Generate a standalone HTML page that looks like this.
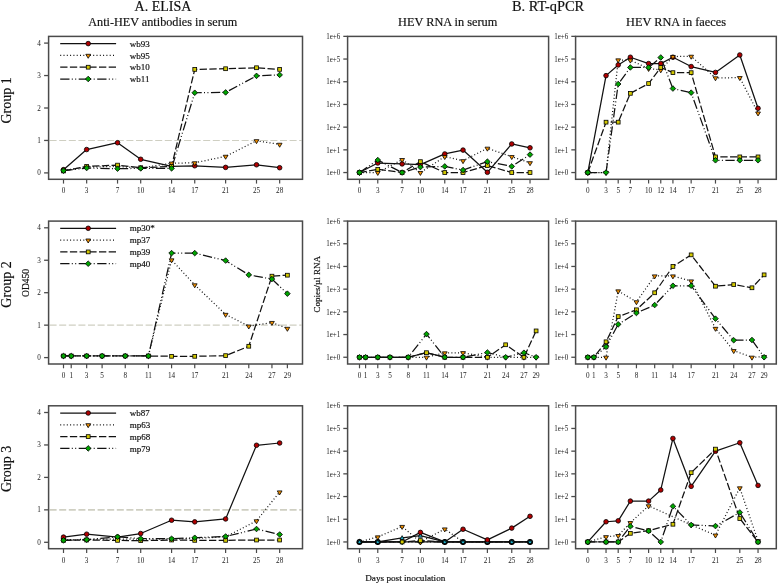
<!DOCTYPE html>
<html><head><meta charset="utf-8"><title>HEV figure</title>
<style>html,body{margin:0;padding:0;background:#fff;width:778px;height:584px;overflow:hidden}svg{display:block;will-change:transform}text{font-family:"Liberation Serif",serif;fill:#111;stroke:#111;stroke-width:0.18px}text.s{stroke:none;fill:#1a1a1a}</style>
</head><body>
<svg width="778" height="584" viewBox="0 0 778 584" font-family='"Liberation Serif", serif' fill="#222"><text x="163.00" y="11.40" font-size="14" text-anchor="middle" >A. ELISA</text>
<text x="162.80" y="25.80" font-size="12.2" text-anchor="middle" >Anti-HEV antibodies in serum</text>
<text x="548.00" y="11.00" font-size="14.4" text-anchor="middle" >B. RT-qPCR</text>
<text x="447.70" y="25.60" font-size="12.3" text-anchor="middle" >HEV RNA in serum</text>
<text x="676.00" y="25.60" font-size="12.3" text-anchor="middle" >HEV RNA in faeces</text>
<text x="405.30" y="581.30" font-size="9.2" text-anchor="middle" >Days post inoculation</text>
<text x="0" y="0" font-size="14" text-anchor="middle" transform="translate(10.7,100.4) rotate(-90)">Group 1</text>
<text x="0" y="0" font-size="14" text-anchor="middle" transform="translate(10.7,284.5) rotate(-90)">Group 2</text>
<text x="0" y="0" font-size="14" text-anchor="middle" transform="translate(10.7,468.9) rotate(-90)">Group 3</text>
<text x="0" y="0" font-size="9.5" text-anchor="middle" transform="translate(28.9,283.0) rotate(-90)">OD450</text>
<text x="0" y="0" font-size="9" text-anchor="middle" transform="translate(320.0,284.2) rotate(-90)">Copies/µl RNA</text>
<line x1="49.6" y1="140.45" x2="301.5" y2="140.45" stroke="#cfcfc2" stroke-width="1.1" stroke-dasharray="7 2.6"/>
<line x1="63.50" y1="179.30" x2="63.50" y2="183.60" stroke="#4a4a4a" stroke-width="1.2"/>
<text x="63.50" y="193.40" font-size="7.2" text-anchor="middle" class="s">0</text>
<line x1="86.66" y1="179.30" x2="86.66" y2="183.60" stroke="#4a4a4a" stroke-width="1.2"/>
<text x="86.66" y="193.40" font-size="7.2" text-anchor="middle" class="s">3</text>
<line x1="117.54" y1="179.30" x2="117.54" y2="183.60" stroke="#4a4a4a" stroke-width="1.2"/>
<text x="117.54" y="193.40" font-size="7.2" text-anchor="middle" class="s">7</text>
<line x1="140.70" y1="179.30" x2="140.70" y2="183.60" stroke="#4a4a4a" stroke-width="1.2"/>
<text x="140.70" y="193.40" font-size="7.2" text-anchor="middle" class="s">10</text>
<line x1="171.58" y1="179.30" x2="171.58" y2="183.60" stroke="#4a4a4a" stroke-width="1.2"/>
<text x="171.58" y="193.40" font-size="7.2" text-anchor="middle" class="s">14</text>
<line x1="194.74" y1="179.30" x2="194.74" y2="183.60" stroke="#4a4a4a" stroke-width="1.2"/>
<text x="194.74" y="193.40" font-size="7.2" text-anchor="middle" class="s">17</text>
<line x1="225.62" y1="179.30" x2="225.62" y2="183.60" stroke="#4a4a4a" stroke-width="1.2"/>
<text x="225.62" y="193.40" font-size="7.2" text-anchor="middle" class="s">21</text>
<line x1="256.50" y1="179.30" x2="256.50" y2="183.60" stroke="#4a4a4a" stroke-width="1.2"/>
<text x="256.50" y="193.40" font-size="7.2" text-anchor="middle" class="s">25</text>
<line x1="279.66" y1="179.30" x2="279.66" y2="183.60" stroke="#4a4a4a" stroke-width="1.2"/>
<text x="279.66" y="193.40" font-size="7.2" text-anchor="middle" class="s">28</text>
<line x1="44.10" y1="172.90" x2="48.60" y2="172.90" stroke="#4a4a4a" stroke-width="1.3"/>
<text x="39.00" y="175.40" font-size="7.2" text-anchor="middle" class="s">0</text>
<line x1="44.10" y1="140.45" x2="48.60" y2="140.45" stroke="#4a4a4a" stroke-width="1.3"/>
<text x="39.00" y="142.95" font-size="7.2" text-anchor="middle" class="s">1</text>
<line x1="44.10" y1="108.00" x2="48.60" y2="108.00" stroke="#4a4a4a" stroke-width="1.3"/>
<text x="39.00" y="110.50" font-size="7.2" text-anchor="middle" class="s">2</text>
<line x1="44.10" y1="75.55" x2="48.60" y2="75.55" stroke="#4a4a4a" stroke-width="1.3"/>
<text x="39.00" y="78.05" font-size="7.2" text-anchor="middle" class="s">3</text>
<line x1="44.10" y1="43.10" x2="48.60" y2="43.10" stroke="#4a4a4a" stroke-width="1.3"/>
<text x="39.00" y="45.60" font-size="7.2" text-anchor="middle" class="s">4</text>
<polyline points="63.50,169.66 86.66,149.54 117.54,142.72 140.70,159.27 171.58,166.41 194.74,165.76 225.62,167.38 256.50,164.79 279.66,167.71" fill="none" stroke="#111" stroke-width="1.25" stroke-linejoin="round"/>
<polyline points="63.50,170.30 86.66,167.06 117.54,166.41 140.70,168.03 171.58,163.16 194.74,162.84 225.62,156.35 256.50,140.77 279.66,144.34" fill="none" stroke="#111" stroke-width="1.25" stroke-dasharray="1 2.3" stroke-linejoin="round"/>
<polyline points="63.50,170.95 86.66,166.41 117.54,165.11 140.70,167.71 171.58,166.41 194.74,69.38 225.62,68.74 256.50,67.76 279.66,69.38" fill="none" stroke="#111" stroke-width="1.25" stroke-dasharray="7.3 2.4" stroke-linejoin="round"/>
<polyline points="63.50,170.63 86.66,168.03 117.54,168.68 140.70,168.36 171.58,168.36 194.74,92.75 225.62,92.42 256.50,75.87 279.66,74.90" fill="none" stroke="#111" stroke-width="1.25" stroke-dasharray="9.3 2.3 1 2.4 1 2.5" stroke-linejoin="round"/>
<circle cx="63.50" cy="169.66" r="2.3" fill="#b00000" stroke="#000" stroke-width="0.8"/>
<circle cx="86.66" cy="149.54" r="2.3" fill="#b00000" stroke="#000" stroke-width="0.8"/>
<circle cx="117.54" cy="142.72" r="2.3" fill="#b00000" stroke="#000" stroke-width="0.8"/>
<circle cx="140.70" cy="159.27" r="2.3" fill="#b00000" stroke="#000" stroke-width="0.8"/>
<circle cx="171.58" cy="166.41" r="2.3" fill="#b00000" stroke="#000" stroke-width="0.8"/>
<circle cx="194.74" cy="165.76" r="2.3" fill="#b00000" stroke="#000" stroke-width="0.8"/>
<circle cx="225.62" cy="167.38" r="2.3" fill="#b00000" stroke="#000" stroke-width="0.8"/>
<circle cx="256.50" cy="164.79" r="2.3" fill="#b00000" stroke="#000" stroke-width="0.8"/>
<circle cx="279.66" cy="167.71" r="2.3" fill="#b00000" stroke="#000" stroke-width="0.8"/>
<polygon points="61.10,169.20 65.90,169.20 63.50,173.20" fill="#f59200" stroke="#000" stroke-width="0.8" stroke-linejoin="miter"/>
<polygon points="84.26,165.96 89.06,165.96 86.66,169.96" fill="#f59200" stroke="#000" stroke-width="0.8" stroke-linejoin="miter"/>
<polygon points="115.14,165.31 119.94,165.31 117.54,169.31" fill="#f59200" stroke="#000" stroke-width="0.8" stroke-linejoin="miter"/>
<polygon points="138.30,166.93 143.10,166.93 140.70,170.93" fill="#f59200" stroke="#000" stroke-width="0.8" stroke-linejoin="miter"/>
<polygon points="169.18,162.06 173.98,162.06 171.58,166.06" fill="#f59200" stroke="#000" stroke-width="0.8" stroke-linejoin="miter"/>
<polygon points="192.34,161.74 197.14,161.74 194.74,165.74" fill="#f59200" stroke="#000" stroke-width="0.8" stroke-linejoin="miter"/>
<polygon points="223.22,155.25 228.02,155.25 225.62,159.25" fill="#f59200" stroke="#000" stroke-width="0.8" stroke-linejoin="miter"/>
<polygon points="254.10,139.67 258.90,139.67 256.50,143.67" fill="#f59200" stroke="#000" stroke-width="0.8" stroke-linejoin="miter"/>
<polygon points="277.26,143.24 282.06,143.24 279.66,147.24" fill="#f59200" stroke="#000" stroke-width="0.8" stroke-linejoin="miter"/>
<rect x="61.60" y="169.05" width="3.8" height="3.8" fill="#d2c800" stroke="#000" stroke-width="0.8"/>
<rect x="84.76" y="164.51" width="3.8" height="3.8" fill="#d2c800" stroke="#000" stroke-width="0.8"/>
<rect x="115.64" y="163.21" width="3.8" height="3.8" fill="#d2c800" stroke="#000" stroke-width="0.8"/>
<rect x="138.80" y="165.81" width="3.8" height="3.8" fill="#d2c800" stroke="#000" stroke-width="0.8"/>
<rect x="169.68" y="164.51" width="3.8" height="3.8" fill="#d2c800" stroke="#000" stroke-width="0.8"/>
<rect x="192.84" y="67.48" width="3.8" height="3.8" fill="#d2c800" stroke="#000" stroke-width="0.8"/>
<rect x="223.72" y="66.84" width="3.8" height="3.8" fill="#d2c800" stroke="#000" stroke-width="0.8"/>
<rect x="254.60" y="65.86" width="3.8" height="3.8" fill="#d2c800" stroke="#000" stroke-width="0.8"/>
<rect x="277.76" y="67.48" width="3.8" height="3.8" fill="#d2c800" stroke="#000" stroke-width="0.8"/>
<polygon points="63.50,167.83 66.30,170.63 63.50,173.43 60.70,170.63" fill="#00a400" stroke="#000" stroke-width="0.8"/>
<polygon points="86.66,165.23 89.46,168.03 86.66,170.83 83.86,168.03" fill="#00a400" stroke="#000" stroke-width="0.8"/>
<polygon points="117.54,165.88 120.34,168.68 117.54,171.48 114.74,168.68" fill="#00a400" stroke="#000" stroke-width="0.8"/>
<polygon points="140.70,165.56 143.50,168.36 140.70,171.16 137.90,168.36" fill="#00a400" stroke="#000" stroke-width="0.8"/>
<polygon points="171.58,165.56 174.38,168.36 171.58,171.16 168.78,168.36" fill="#00a400" stroke="#000" stroke-width="0.8"/>
<polygon points="194.74,89.95 197.54,92.75 194.74,95.55 191.94,92.75" fill="#00a400" stroke="#000" stroke-width="0.8"/>
<polygon points="225.62,89.62 228.42,92.42 225.62,95.22 222.82,92.42" fill="#00a400" stroke="#000" stroke-width="0.8"/>
<polygon points="256.50,73.07 259.30,75.87 256.50,78.67 253.70,75.87" fill="#00a400" stroke="#000" stroke-width="0.8"/>
<polygon points="279.66,72.10 282.46,74.90 279.66,77.70 276.86,74.90" fill="#00a400" stroke="#000" stroke-width="0.8"/>
<polyline points="60.20,43.60 116.10,43.60" fill="none" stroke="#111" stroke-width="1.25" stroke-linejoin="round"/>
<circle cx="88.20" cy="43.60" r="2.3" fill="#b00000" stroke="#000" stroke-width="0.8"/>
<text x="129.80" y="46.70" font-size="9" text-anchor="start" >wb93</text>
<polyline points="60.20,55.40 116.10,55.40" fill="none" stroke="#111" stroke-width="1.25" stroke-dasharray="1 2.3" stroke-linejoin="round"/>
<polygon points="85.80,54.30 90.60,54.30 88.20,58.30" fill="#f59200" stroke="#000" stroke-width="0.8" stroke-linejoin="miter"/>
<text x="129.80" y="58.50" font-size="9" text-anchor="start" >wb95</text>
<polyline points="60.20,67.20 116.10,67.20" fill="none" stroke="#111" stroke-width="1.25" stroke-dasharray="7.3 2.4" stroke-linejoin="round"/>
<rect x="86.30" y="65.30" width="3.8" height="3.8" fill="#d2c800" stroke="#000" stroke-width="0.8"/>
<text x="129.80" y="70.30" font-size="9" text-anchor="start" >wb10</text>
<polyline points="60.20,79.00 116.10,79.00" fill="none" stroke="#111" stroke-width="1.25" stroke-dasharray="9.3 2.3 1 2.4 1 2.5" stroke-linejoin="round"/>
<polygon points="88.20,76.20 91.00,79.00 88.20,81.80 85.40,79.00" fill="#00a400" stroke="#000" stroke-width="0.8"/>
<text x="129.80" y="82.10" font-size="9" text-anchor="start" >wb11</text>
<rect x="48.60" y="36.40" width="253.90" height="142.90" fill="none" stroke="#4a4a4a" stroke-width="1.5"/>
<line x1="359.50" y1="179.30" x2="359.50" y2="183.60" stroke="#4a4a4a" stroke-width="1.2"/>
<text x="359.50" y="193.40" font-size="7.2" text-anchor="middle" class="s">0</text>
<line x1="377.77" y1="179.30" x2="377.77" y2="183.60" stroke="#4a4a4a" stroke-width="1.2"/>
<text x="377.77" y="193.40" font-size="7.2" text-anchor="middle" class="s">3</text>
<line x1="402.13" y1="179.30" x2="402.13" y2="183.60" stroke="#4a4a4a" stroke-width="1.2"/>
<text x="402.13" y="193.40" font-size="7.2" text-anchor="middle" class="s">7</text>
<line x1="420.40" y1="179.30" x2="420.40" y2="183.60" stroke="#4a4a4a" stroke-width="1.2"/>
<text x="420.40" y="193.40" font-size="7.2" text-anchor="middle" class="s">10</text>
<line x1="444.76" y1="179.30" x2="444.76" y2="183.60" stroke="#4a4a4a" stroke-width="1.2"/>
<text x="444.76" y="193.40" font-size="7.2" text-anchor="middle" class="s">14</text>
<line x1="463.03" y1="179.30" x2="463.03" y2="183.60" stroke="#4a4a4a" stroke-width="1.2"/>
<text x="463.03" y="193.40" font-size="7.2" text-anchor="middle" class="s">17</text>
<line x1="487.39" y1="179.30" x2="487.39" y2="183.60" stroke="#4a4a4a" stroke-width="1.2"/>
<text x="487.39" y="193.40" font-size="7.2" text-anchor="middle" class="s">21</text>
<line x1="511.75" y1="179.30" x2="511.75" y2="183.60" stroke="#4a4a4a" stroke-width="1.2"/>
<text x="511.75" y="193.40" font-size="7.2" text-anchor="middle" class="s">25</text>
<line x1="530.02" y1="179.30" x2="530.02" y2="183.60" stroke="#4a4a4a" stroke-width="1.2"/>
<text x="530.02" y="193.40" font-size="7.2" text-anchor="middle" class="s">28</text>
<line x1="343.30" y1="172.55" x2="347.60" y2="172.55" stroke="#4a4a4a" stroke-width="1.3"/>
<text class="s" x="0" y="0" font-size="7" text-anchor="end" transform="translate(340.20,175.25) scale(1,1.18)">1e+0</text>
<line x1="343.30" y1="149.85" x2="347.60" y2="149.85" stroke="#4a4a4a" stroke-width="1.3"/>
<text class="s" x="0" y="0" font-size="7" text-anchor="end" transform="translate(340.20,152.55) scale(1,1.18)">1e+1</text>
<line x1="343.30" y1="127.15" x2="347.60" y2="127.15" stroke="#4a4a4a" stroke-width="1.3"/>
<text class="s" x="0" y="0" font-size="7" text-anchor="end" transform="translate(340.20,129.85) scale(1,1.18)">1e+2</text>
<line x1="343.30" y1="104.45" x2="347.60" y2="104.45" stroke="#4a4a4a" stroke-width="1.3"/>
<text class="s" x="0" y="0" font-size="7" text-anchor="end" transform="translate(340.20,107.15) scale(1,1.18)">1e+3</text>
<line x1="343.30" y1="81.75" x2="347.60" y2="81.75" stroke="#4a4a4a" stroke-width="1.3"/>
<text class="s" x="0" y="0" font-size="7" text-anchor="end" transform="translate(340.20,84.45) scale(1,1.18)">1e+4</text>
<line x1="343.30" y1="59.05" x2="347.60" y2="59.05" stroke="#4a4a4a" stroke-width="1.3"/>
<text class="s" x="0" y="0" font-size="7" text-anchor="end" transform="translate(340.20,61.75) scale(1,1.18)">1e+5</text>
<line x1="343.30" y1="36.35" x2="347.60" y2="36.35" stroke="#4a4a4a" stroke-width="1.3"/>
<text class="s" x="0" y="0" font-size="7" text-anchor="end" transform="translate(340.20,39.05) scale(1,1.18)">1e+6</text>
<polyline points="359.50,172.55 377.77,163.02 402.13,163.92 420.40,164.61 444.76,153.94 463.03,150.08 487.39,172.32 511.75,143.95 530.02,147.81" fill="none" stroke="#111" stroke-width="1.25" stroke-linejoin="round"/>
<polyline points="359.50,172.55 377.77,172.55 402.13,159.61 420.40,172.55 444.76,156.66 463.03,160.75 487.39,148.26 511.75,156.66 530.02,162.79" fill="none" stroke="#111" stroke-width="1.25" stroke-dasharray="1 2.3" stroke-linejoin="round"/>
<polyline points="359.50,172.55 377.77,169.37 402.13,172.55 420.40,161.65 444.76,172.55 463.03,172.55 487.39,165.51 511.75,172.55 530.02,172.55" fill="none" stroke="#111" stroke-width="1.25" stroke-dasharray="7.3 2.4" stroke-linejoin="round"/>
<polyline points="359.50,172.55 377.77,160.06 402.13,172.55 420.40,167.10 444.76,166.42 463.03,170.05 487.39,161.65 511.75,166.42 530.02,154.62" fill="none" stroke="#111" stroke-width="1.25" stroke-dasharray="9.3 2.3 1 2.4 1 2.5" stroke-linejoin="round"/>
<circle cx="359.50" cy="172.55" r="2.3" fill="#b00000" stroke="#000" stroke-width="0.8"/>
<circle cx="377.77" cy="163.02" r="2.3" fill="#b00000" stroke="#000" stroke-width="0.8"/>
<circle cx="402.13" cy="163.92" r="2.3" fill="#b00000" stroke="#000" stroke-width="0.8"/>
<circle cx="420.40" cy="164.61" r="2.3" fill="#b00000" stroke="#000" stroke-width="0.8"/>
<circle cx="444.76" cy="153.94" r="2.3" fill="#b00000" stroke="#000" stroke-width="0.8"/>
<circle cx="463.03" cy="150.08" r="2.3" fill="#b00000" stroke="#000" stroke-width="0.8"/>
<circle cx="487.39" cy="172.32" r="2.3" fill="#b00000" stroke="#000" stroke-width="0.8"/>
<circle cx="511.75" cy="143.95" r="2.3" fill="#b00000" stroke="#000" stroke-width="0.8"/>
<circle cx="530.02" cy="147.81" r="2.3" fill="#b00000" stroke="#000" stroke-width="0.8"/>
<polygon points="357.10,171.45 361.90,171.45 359.50,175.45" fill="#f59200" stroke="#000" stroke-width="0.8" stroke-linejoin="miter"/>
<polygon points="375.37,171.45 380.17,171.45 377.77,175.45" fill="#f59200" stroke="#000" stroke-width="0.8" stroke-linejoin="miter"/>
<polygon points="399.73,158.51 404.53,158.51 402.13,162.51" fill="#f59200" stroke="#000" stroke-width="0.8" stroke-linejoin="miter"/>
<polygon points="418.00,171.45 422.80,171.45 420.40,175.45" fill="#f59200" stroke="#000" stroke-width="0.8" stroke-linejoin="miter"/>
<polygon points="442.36,155.56 447.16,155.56 444.76,159.56" fill="#f59200" stroke="#000" stroke-width="0.8" stroke-linejoin="miter"/>
<polygon points="460.63,159.65 465.43,159.65 463.03,163.65" fill="#f59200" stroke="#000" stroke-width="0.8" stroke-linejoin="miter"/>
<polygon points="484.99,147.16 489.79,147.16 487.39,151.16" fill="#f59200" stroke="#000" stroke-width="0.8" stroke-linejoin="miter"/>
<polygon points="509.35,155.56 514.15,155.56 511.75,159.56" fill="#f59200" stroke="#000" stroke-width="0.8" stroke-linejoin="miter"/>
<polygon points="527.62,161.69 532.42,161.69 530.02,165.69" fill="#f59200" stroke="#000" stroke-width="0.8" stroke-linejoin="miter"/>
<rect x="357.60" y="170.65" width="3.8" height="3.8" fill="#d2c800" stroke="#000" stroke-width="0.8"/>
<rect x="375.87" y="167.47" width="3.8" height="3.8" fill="#d2c800" stroke="#000" stroke-width="0.8"/>
<rect x="400.23" y="170.65" width="3.8" height="3.8" fill="#d2c800" stroke="#000" stroke-width="0.8"/>
<rect x="418.50" y="159.75" width="3.8" height="3.8" fill="#d2c800" stroke="#000" stroke-width="0.8"/>
<rect x="442.86" y="170.65" width="3.8" height="3.8" fill="#d2c800" stroke="#000" stroke-width="0.8"/>
<rect x="461.13" y="170.65" width="3.8" height="3.8" fill="#d2c800" stroke="#000" stroke-width="0.8"/>
<rect x="485.49" y="163.61" width="3.8" height="3.8" fill="#d2c800" stroke="#000" stroke-width="0.8"/>
<rect x="509.85" y="170.65" width="3.8" height="3.8" fill="#d2c800" stroke="#000" stroke-width="0.8"/>
<rect x="528.12" y="170.65" width="3.8" height="3.8" fill="#d2c800" stroke="#000" stroke-width="0.8"/>
<polygon points="359.50,169.75 362.30,172.55 359.50,175.35 356.70,172.55" fill="#00a400" stroke="#000" stroke-width="0.8"/>
<polygon points="377.77,157.26 380.57,160.06 377.77,162.87 374.97,160.06" fill="#00a400" stroke="#000" stroke-width="0.8"/>
<polygon points="402.13,169.75 404.93,172.55 402.13,175.35 399.33,172.55" fill="#00a400" stroke="#000" stroke-width="0.8"/>
<polygon points="420.40,164.30 423.20,167.10 420.40,169.90 417.60,167.10" fill="#00a400" stroke="#000" stroke-width="0.8"/>
<polygon points="444.76,163.62 447.56,166.42 444.76,169.22 441.96,166.42" fill="#00a400" stroke="#000" stroke-width="0.8"/>
<polygon points="463.03,167.25 465.83,170.05 463.03,172.85 460.23,170.05" fill="#00a400" stroke="#000" stroke-width="0.8"/>
<polygon points="487.39,158.85 490.19,161.65 487.39,164.45 484.59,161.65" fill="#00a400" stroke="#000" stroke-width="0.8"/>
<polygon points="511.75,163.62 514.55,166.42 511.75,169.22 508.95,166.42" fill="#00a400" stroke="#000" stroke-width="0.8"/>
<polygon points="530.02,151.82 532.82,154.62 530.02,157.42 527.22,154.62" fill="#00a400" stroke="#000" stroke-width="0.8"/>
<rect x="347.60" y="36.40" width="201.00" height="142.90" fill="none" stroke="#4a4a4a" stroke-width="1.5"/>
<line x1="587.80" y1="179.30" x2="587.80" y2="183.60" stroke="#4a4a4a" stroke-width="1.2"/>
<text x="587.80" y="193.40" font-size="7.2" text-anchor="middle" class="s">0</text>
<line x1="606.04" y1="179.30" x2="606.04" y2="183.60" stroke="#4a4a4a" stroke-width="1.2"/>
<text x="606.04" y="193.40" font-size="7.2" text-anchor="middle" class="s">3</text>
<line x1="618.20" y1="179.30" x2="618.20" y2="183.60" stroke="#4a4a4a" stroke-width="1.2"/>
<text x="618.20" y="193.40" font-size="7.2" text-anchor="middle" class="s">5</text>
<line x1="630.36" y1="179.30" x2="630.36" y2="183.60" stroke="#4a4a4a" stroke-width="1.2"/>
<text x="630.36" y="193.40" font-size="7.2" text-anchor="middle" class="s">7</text>
<line x1="648.60" y1="179.30" x2="648.60" y2="183.60" stroke="#4a4a4a" stroke-width="1.2"/>
<text x="648.60" y="193.40" font-size="7.2" text-anchor="middle" class="s">10</text>
<line x1="660.76" y1="179.30" x2="660.76" y2="183.60" stroke="#4a4a4a" stroke-width="1.2"/>
<text x="660.76" y="193.40" font-size="7.2" text-anchor="middle" class="s">12</text>
<line x1="672.92" y1="179.30" x2="672.92" y2="183.60" stroke="#4a4a4a" stroke-width="1.2"/>
<text x="672.92" y="193.40" font-size="7.2" text-anchor="middle" class="s">14</text>
<line x1="691.16" y1="179.30" x2="691.16" y2="183.60" stroke="#4a4a4a" stroke-width="1.2"/>
<text x="691.16" y="193.40" font-size="7.2" text-anchor="middle" class="s">17</text>
<line x1="715.48" y1="179.30" x2="715.48" y2="183.60" stroke="#4a4a4a" stroke-width="1.2"/>
<text x="715.48" y="193.40" font-size="7.2" text-anchor="middle" class="s">21</text>
<line x1="739.80" y1="179.30" x2="739.80" y2="183.60" stroke="#4a4a4a" stroke-width="1.2"/>
<text x="739.80" y="193.40" font-size="7.2" text-anchor="middle" class="s">25</text>
<line x1="758.04" y1="179.30" x2="758.04" y2="183.60" stroke="#4a4a4a" stroke-width="1.2"/>
<text x="758.04" y="193.40" font-size="7.2" text-anchor="middle" class="s">28</text>
<line x1="571.30" y1="172.55" x2="575.60" y2="172.55" stroke="#4a4a4a" stroke-width="1.3"/>
<text class="s" x="0" y="0" font-size="7" text-anchor="end" transform="translate(568.20,175.25) scale(1,1.18)">1e+0</text>
<line x1="571.30" y1="149.85" x2="575.60" y2="149.85" stroke="#4a4a4a" stroke-width="1.3"/>
<text class="s" x="0" y="0" font-size="7" text-anchor="end" transform="translate(568.20,152.55) scale(1,1.18)">1e+1</text>
<line x1="571.30" y1="127.15" x2="575.60" y2="127.15" stroke="#4a4a4a" stroke-width="1.3"/>
<text class="s" x="0" y="0" font-size="7" text-anchor="end" transform="translate(568.20,129.85) scale(1,1.18)">1e+2</text>
<line x1="571.30" y1="104.45" x2="575.60" y2="104.45" stroke="#4a4a4a" stroke-width="1.3"/>
<text class="s" x="0" y="0" font-size="7" text-anchor="end" transform="translate(568.20,107.15) scale(1,1.18)">1e+3</text>
<line x1="571.30" y1="81.75" x2="575.60" y2="81.75" stroke="#4a4a4a" stroke-width="1.3"/>
<text class="s" x="0" y="0" font-size="7" text-anchor="end" transform="translate(568.20,84.45) scale(1,1.18)">1e+4</text>
<line x1="571.30" y1="59.05" x2="575.60" y2="59.05" stroke="#4a4a4a" stroke-width="1.3"/>
<text class="s" x="0" y="0" font-size="7" text-anchor="end" transform="translate(568.20,61.75) scale(1,1.18)">1e+5</text>
<line x1="571.30" y1="36.35" x2="575.60" y2="36.35" stroke="#4a4a4a" stroke-width="1.3"/>
<text class="s" x="0" y="0" font-size="7" text-anchor="end" transform="translate(568.20,39.05) scale(1,1.18)">1e+6</text>
<polyline points="587.80,172.55 606.04,75.62 618.20,64.95 630.36,57.23 648.60,63.59 660.76,63.59 672.92,57.23 691.16,66.54 715.48,72.44 739.80,54.96 758.04,108.31" fill="none" stroke="#111" stroke-width="1.25" stroke-linejoin="round"/>
<polyline points="587.80,172.55 606.04,172.55 618.20,59.96 630.36,60.19 648.60,68.58 660.76,69.95 672.92,56.55 691.16,56.33 715.48,77.89 739.80,77.66 758.04,113.08" fill="none" stroke="#111" stroke-width="1.25" stroke-dasharray="1 2.3" stroke-linejoin="round"/>
<polyline points="587.80,172.55 606.04,122.16 618.20,122.16 630.36,93.33 648.60,83.57 660.76,67.45 672.92,72.67 691.16,72.67 715.48,156.89 739.80,156.89 758.04,156.89" fill="none" stroke="#111" stroke-width="1.25" stroke-dasharray="7.3 2.4" stroke-linejoin="round"/>
<polyline points="587.80,172.55 606.04,172.55 618.20,84.02 630.36,67.45 648.60,67.45 660.76,57.46 672.92,88.56 691.16,92.65 715.48,160.29 739.80,160.29 758.04,160.29" fill="none" stroke="#111" stroke-width="1.25" stroke-dasharray="9.3 2.3 1 2.4 1 2.5" stroke-linejoin="round"/>
<circle cx="587.80" cy="172.55" r="2.3" fill="#b00000" stroke="#000" stroke-width="0.8"/>
<circle cx="606.04" cy="75.62" r="2.3" fill="#b00000" stroke="#000" stroke-width="0.8"/>
<circle cx="618.20" cy="64.95" r="2.3" fill="#b00000" stroke="#000" stroke-width="0.8"/>
<circle cx="630.36" cy="57.23" r="2.3" fill="#b00000" stroke="#000" stroke-width="0.8"/>
<circle cx="648.60" cy="63.59" r="2.3" fill="#b00000" stroke="#000" stroke-width="0.8"/>
<circle cx="660.76" cy="63.59" r="2.3" fill="#b00000" stroke="#000" stroke-width="0.8"/>
<circle cx="672.92" cy="57.23" r="2.3" fill="#b00000" stroke="#000" stroke-width="0.8"/>
<circle cx="691.16" cy="66.54" r="2.3" fill="#b00000" stroke="#000" stroke-width="0.8"/>
<circle cx="715.48" cy="72.44" r="2.3" fill="#b00000" stroke="#000" stroke-width="0.8"/>
<circle cx="739.80" cy="54.96" r="2.3" fill="#b00000" stroke="#000" stroke-width="0.8"/>
<circle cx="758.04" cy="108.31" r="2.3" fill="#b00000" stroke="#000" stroke-width="0.8"/>
<polygon points="585.40,171.45 590.20,171.45 587.80,175.45" fill="#f59200" stroke="#000" stroke-width="0.8" stroke-linejoin="miter"/>
<polygon points="603.64,171.45 608.44,171.45 606.04,175.45" fill="#f59200" stroke="#000" stroke-width="0.8" stroke-linejoin="miter"/>
<polygon points="615.80,58.86 620.60,58.86 618.20,62.86" fill="#f59200" stroke="#000" stroke-width="0.8" stroke-linejoin="miter"/>
<polygon points="627.96,59.09 632.76,59.09 630.36,63.09" fill="#f59200" stroke="#000" stroke-width="0.8" stroke-linejoin="miter"/>
<polygon points="646.20,67.48 651.00,67.48 648.60,71.48" fill="#f59200" stroke="#000" stroke-width="0.8" stroke-linejoin="miter"/>
<polygon points="658.36,68.85 663.16,68.85 660.76,72.85" fill="#f59200" stroke="#000" stroke-width="0.8" stroke-linejoin="miter"/>
<polygon points="670.52,55.45 675.32,55.45 672.92,59.45" fill="#f59200" stroke="#000" stroke-width="0.8" stroke-linejoin="miter"/>
<polygon points="688.76,55.23 693.56,55.23 691.16,59.23" fill="#f59200" stroke="#000" stroke-width="0.8" stroke-linejoin="miter"/>
<polygon points="713.08,76.79 717.88,76.79 715.48,80.79" fill="#f59200" stroke="#000" stroke-width="0.8" stroke-linejoin="miter"/>
<polygon points="737.40,76.56 742.20,76.56 739.80,80.56" fill="#f59200" stroke="#000" stroke-width="0.8" stroke-linejoin="miter"/>
<polygon points="755.64,111.98 760.44,111.98 758.04,115.98" fill="#f59200" stroke="#000" stroke-width="0.8" stroke-linejoin="miter"/>
<rect x="585.90" y="170.65" width="3.8" height="3.8" fill="#d2c800" stroke="#000" stroke-width="0.8"/>
<rect x="604.14" y="120.26" width="3.8" height="3.8" fill="#d2c800" stroke="#000" stroke-width="0.8"/>
<rect x="616.30" y="120.26" width="3.8" height="3.8" fill="#d2c800" stroke="#000" stroke-width="0.8"/>
<rect x="628.46" y="91.43" width="3.8" height="3.8" fill="#d2c800" stroke="#000" stroke-width="0.8"/>
<rect x="646.70" y="81.67" width="3.8" height="3.8" fill="#d2c800" stroke="#000" stroke-width="0.8"/>
<rect x="658.86" y="65.55" width="3.8" height="3.8" fill="#d2c800" stroke="#000" stroke-width="0.8"/>
<rect x="671.02" y="70.77" width="3.8" height="3.8" fill="#d2c800" stroke="#000" stroke-width="0.8"/>
<rect x="689.26" y="70.77" width="3.8" height="3.8" fill="#d2c800" stroke="#000" stroke-width="0.8"/>
<rect x="713.58" y="154.99" width="3.8" height="3.8" fill="#d2c800" stroke="#000" stroke-width="0.8"/>
<rect x="737.90" y="154.99" width="3.8" height="3.8" fill="#d2c800" stroke="#000" stroke-width="0.8"/>
<rect x="756.14" y="154.99" width="3.8" height="3.8" fill="#d2c800" stroke="#000" stroke-width="0.8"/>
<polygon points="587.80,169.75 590.60,172.55 587.80,175.35 585.00,172.55" fill="#00a400" stroke="#000" stroke-width="0.8"/>
<polygon points="606.04,169.75 608.84,172.55 606.04,175.35 603.24,172.55" fill="#00a400" stroke="#000" stroke-width="0.8"/>
<polygon points="618.20,81.22 621.00,84.02 618.20,86.82 615.40,84.02" fill="#00a400" stroke="#000" stroke-width="0.8"/>
<polygon points="630.36,64.65 633.16,67.45 630.36,70.25 627.56,67.45" fill="#00a400" stroke="#000" stroke-width="0.8"/>
<polygon points="648.60,64.65 651.40,67.45 648.60,70.25 645.80,67.45" fill="#00a400" stroke="#000" stroke-width="0.8"/>
<polygon points="660.76,54.66 663.56,57.46 660.76,60.26 657.96,57.46" fill="#00a400" stroke="#000" stroke-width="0.8"/>
<polygon points="672.92,85.76 675.72,88.56 672.92,91.36 670.12,88.56" fill="#00a400" stroke="#000" stroke-width="0.8"/>
<polygon points="691.16,89.85 693.96,92.65 691.16,95.45 688.36,92.65" fill="#00a400" stroke="#000" stroke-width="0.8"/>
<polygon points="715.48,157.49 718.28,160.29 715.48,163.09 712.68,160.29" fill="#00a400" stroke="#000" stroke-width="0.8"/>
<polygon points="739.80,157.49 742.60,160.29 739.80,163.09 737.00,160.29" fill="#00a400" stroke="#000" stroke-width="0.8"/>
<polygon points="758.04,157.49 760.84,160.29 758.04,163.09 755.24,160.29" fill="#00a400" stroke="#000" stroke-width="0.8"/>
<rect x="575.60" y="36.40" width="200.70" height="142.90" fill="none" stroke="#4a4a4a" stroke-width="1.5"/>
<line x1="49.6" y1="325.15" x2="301.5" y2="325.15" stroke="#cfcfc2" stroke-width="1.2" stroke-dasharray="7 2.6"/>
<line x1="63.50" y1="364.00" x2="63.50" y2="368.30" stroke="#4a4a4a" stroke-width="1.2"/>
<text x="63.50" y="378.10" font-size="7.2" text-anchor="middle" class="s">0</text>
<line x1="71.22" y1="364.00" x2="71.22" y2="368.30" stroke="#4a4a4a" stroke-width="1.2"/>
<text x="71.22" y="378.10" font-size="7.2" text-anchor="middle" class="s">1</text>
<line x1="86.66" y1="364.00" x2="86.66" y2="368.30" stroke="#4a4a4a" stroke-width="1.2"/>
<text x="86.66" y="378.10" font-size="7.2" text-anchor="middle" class="s">3</text>
<line x1="102.10" y1="364.00" x2="102.10" y2="368.30" stroke="#4a4a4a" stroke-width="1.2"/>
<text x="102.10" y="378.10" font-size="7.2" text-anchor="middle" class="s">5</text>
<line x1="125.26" y1="364.00" x2="125.26" y2="368.30" stroke="#4a4a4a" stroke-width="1.2"/>
<text x="125.26" y="378.10" font-size="7.2" text-anchor="middle" class="s">8</text>
<line x1="148.42" y1="364.00" x2="148.42" y2="368.30" stroke="#4a4a4a" stroke-width="1.2"/>
<text x="148.42" y="378.10" font-size="7.2" text-anchor="middle" class="s">11</text>
<line x1="171.58" y1="364.00" x2="171.58" y2="368.30" stroke="#4a4a4a" stroke-width="1.2"/>
<text x="171.58" y="378.10" font-size="7.2" text-anchor="middle" class="s">14</text>
<line x1="194.74" y1="364.00" x2="194.74" y2="368.30" stroke="#4a4a4a" stroke-width="1.2"/>
<text x="194.74" y="378.10" font-size="7.2" text-anchor="middle" class="s">17</text>
<line x1="225.62" y1="364.00" x2="225.62" y2="368.30" stroke="#4a4a4a" stroke-width="1.2"/>
<text x="225.62" y="378.10" font-size="7.2" text-anchor="middle" class="s">21</text>
<line x1="248.78" y1="364.00" x2="248.78" y2="368.30" stroke="#4a4a4a" stroke-width="1.2"/>
<text x="248.78" y="378.10" font-size="7.2" text-anchor="middle" class="s">24</text>
<line x1="271.94" y1="364.00" x2="271.94" y2="368.30" stroke="#4a4a4a" stroke-width="1.2"/>
<text x="271.94" y="378.10" font-size="7.2" text-anchor="middle" class="s">27</text>
<line x1="287.38" y1="364.00" x2="287.38" y2="368.30" stroke="#4a4a4a" stroke-width="1.2"/>
<text x="287.38" y="378.10" font-size="7.2" text-anchor="middle" class="s">29</text>
<line x1="44.10" y1="357.60" x2="48.60" y2="357.60" stroke="#4a4a4a" stroke-width="1.3"/>
<text x="39.00" y="360.10" font-size="7.2" text-anchor="middle" class="s">0</text>
<line x1="44.10" y1="325.15" x2="48.60" y2="325.15" stroke="#4a4a4a" stroke-width="1.3"/>
<text x="39.00" y="327.65" font-size="7.2" text-anchor="middle" class="s">1</text>
<line x1="44.10" y1="292.70" x2="48.60" y2="292.70" stroke="#4a4a4a" stroke-width="1.3"/>
<text x="39.00" y="295.20" font-size="7.2" text-anchor="middle" class="s">2</text>
<line x1="44.10" y1="260.25" x2="48.60" y2="260.25" stroke="#4a4a4a" stroke-width="1.3"/>
<text x="39.00" y="262.75" font-size="7.2" text-anchor="middle" class="s">3</text>
<line x1="44.10" y1="227.80" x2="48.60" y2="227.80" stroke="#4a4a4a" stroke-width="1.3"/>
<text x="39.00" y="230.30" font-size="7.2" text-anchor="middle" class="s">4</text>
<polyline points="63.50,355.98 71.22,355.98 86.66,355.98 102.10,355.98 125.26,355.98 148.42,355.98 171.58,259.93 194.74,284.91 225.62,314.44 248.78,326.12 271.94,322.55 287.38,328.40" fill="none" stroke="#111" stroke-width="1.25" stroke-dasharray="1 2.3" stroke-linejoin="round"/>
<polyline points="63.50,355.98 71.22,355.98 86.66,355.98 102.10,355.98 125.26,355.98 148.42,355.98 171.58,356.30 194.74,356.30 225.62,355.65 248.78,346.24 271.94,276.15 287.38,275.18" fill="none" stroke="#111" stroke-width="1.25" stroke-dasharray="7.3 2.4" stroke-linejoin="round"/>
<polyline points="63.50,355.98 71.22,355.98 86.66,355.98 102.10,355.98 125.26,355.98 148.42,355.98 171.58,253.11 194.74,253.11 225.62,260.57 248.78,274.85 271.94,279.07 287.38,293.67" fill="none" stroke="#111" stroke-width="1.25" stroke-dasharray="9.3 2.3 1 2.4 1 2.5" stroke-linejoin="round"/>
<polygon points="61.10,354.88 65.90,354.88 63.50,358.88" fill="#f59200" stroke="#000" stroke-width="0.8" stroke-linejoin="miter"/>
<polygon points="68.82,354.88 73.62,354.88 71.22,358.88" fill="#f59200" stroke="#000" stroke-width="0.8" stroke-linejoin="miter"/>
<polygon points="84.26,354.88 89.06,354.88 86.66,358.88" fill="#f59200" stroke="#000" stroke-width="0.8" stroke-linejoin="miter"/>
<polygon points="99.70,354.88 104.50,354.88 102.10,358.88" fill="#f59200" stroke="#000" stroke-width="0.8" stroke-linejoin="miter"/>
<polygon points="122.86,354.88 127.66,354.88 125.26,358.88" fill="#f59200" stroke="#000" stroke-width="0.8" stroke-linejoin="miter"/>
<polygon points="146.02,354.88 150.82,354.88 148.42,358.88" fill="#f59200" stroke="#000" stroke-width="0.8" stroke-linejoin="miter"/>
<polygon points="169.18,258.83 173.98,258.83 171.58,262.83" fill="#f59200" stroke="#000" stroke-width="0.8" stroke-linejoin="miter"/>
<polygon points="192.34,283.81 197.14,283.81 194.74,287.81" fill="#f59200" stroke="#000" stroke-width="0.8" stroke-linejoin="miter"/>
<polygon points="223.22,313.34 228.02,313.34 225.62,317.34" fill="#f59200" stroke="#000" stroke-width="0.8" stroke-linejoin="miter"/>
<polygon points="246.38,325.02 251.18,325.02 248.78,329.02" fill="#f59200" stroke="#000" stroke-width="0.8" stroke-linejoin="miter"/>
<polygon points="269.54,321.45 274.34,321.45 271.94,325.45" fill="#f59200" stroke="#000" stroke-width="0.8" stroke-linejoin="miter"/>
<polygon points="284.98,327.30 289.78,327.30 287.38,331.30" fill="#f59200" stroke="#000" stroke-width="0.8" stroke-linejoin="miter"/>
<rect x="61.60" y="354.08" width="3.8" height="3.8" fill="#d2c800" stroke="#000" stroke-width="0.8"/>
<rect x="69.32" y="354.08" width="3.8" height="3.8" fill="#d2c800" stroke="#000" stroke-width="0.8"/>
<rect x="84.76" y="354.08" width="3.8" height="3.8" fill="#d2c800" stroke="#000" stroke-width="0.8"/>
<rect x="100.20" y="354.08" width="3.8" height="3.8" fill="#d2c800" stroke="#000" stroke-width="0.8"/>
<rect x="123.36" y="354.08" width="3.8" height="3.8" fill="#d2c800" stroke="#000" stroke-width="0.8"/>
<rect x="146.52" y="354.08" width="3.8" height="3.8" fill="#d2c800" stroke="#000" stroke-width="0.8"/>
<rect x="169.68" y="354.40" width="3.8" height="3.8" fill="#d2c800" stroke="#000" stroke-width="0.8"/>
<rect x="192.84" y="354.40" width="3.8" height="3.8" fill="#d2c800" stroke="#000" stroke-width="0.8"/>
<rect x="223.72" y="353.75" width="3.8" height="3.8" fill="#d2c800" stroke="#000" stroke-width="0.8"/>
<rect x="246.88" y="344.34" width="3.8" height="3.8" fill="#d2c800" stroke="#000" stroke-width="0.8"/>
<rect x="270.04" y="274.25" width="3.8" height="3.8" fill="#d2c800" stroke="#000" stroke-width="0.8"/>
<rect x="285.48" y="273.28" width="3.8" height="3.8" fill="#d2c800" stroke="#000" stroke-width="0.8"/>
<polygon points="63.50,353.18 66.30,355.98 63.50,358.78 60.70,355.98" fill="#00a400" stroke="#000" stroke-width="0.8"/>
<polygon points="71.22,353.18 74.02,355.98 71.22,358.78 68.42,355.98" fill="#00a400" stroke="#000" stroke-width="0.8"/>
<polygon points="86.66,353.18 89.46,355.98 86.66,358.78 83.86,355.98" fill="#00a400" stroke="#000" stroke-width="0.8"/>
<polygon points="102.10,353.18 104.90,355.98 102.10,358.78 99.30,355.98" fill="#00a400" stroke="#000" stroke-width="0.8"/>
<polygon points="125.26,353.18 128.06,355.98 125.26,358.78 122.46,355.98" fill="#00a400" stroke="#000" stroke-width="0.8"/>
<polygon points="148.42,353.18 151.22,355.98 148.42,358.78 145.62,355.98" fill="#00a400" stroke="#000" stroke-width="0.8"/>
<polygon points="171.58,250.31 174.38,253.11 171.58,255.91 168.78,253.11" fill="#00a400" stroke="#000" stroke-width="0.8"/>
<polygon points="194.74,250.31 197.54,253.11 194.74,255.91 191.94,253.11" fill="#00a400" stroke="#000" stroke-width="0.8"/>
<polygon points="225.62,257.77 228.42,260.57 225.62,263.37 222.82,260.57" fill="#00a400" stroke="#000" stroke-width="0.8"/>
<polygon points="248.78,272.05 251.58,274.85 248.78,277.65 245.98,274.85" fill="#00a400" stroke="#000" stroke-width="0.8"/>
<polygon points="271.94,276.27 274.74,279.07 271.94,281.87 269.14,279.07" fill="#00a400" stroke="#000" stroke-width="0.8"/>
<polygon points="287.38,290.87 290.18,293.67 287.38,296.47 284.58,293.67" fill="#00a400" stroke="#000" stroke-width="0.8"/>
<polyline points="60.20,228.30 116.10,228.30" fill="none" stroke="#111" stroke-width="1.25" stroke-linejoin="round"/>
<circle cx="88.20" cy="228.30" r="2.3" fill="#b00000" stroke="#000" stroke-width="0.8"/>
<text x="129.80" y="231.40" font-size="9" text-anchor="start" >mp30*</text>
<polyline points="60.20,240.10 116.10,240.10" fill="none" stroke="#111" stroke-width="1.25" stroke-dasharray="1 2.3" stroke-linejoin="round"/>
<polygon points="85.80,239.00 90.60,239.00 88.20,243.00" fill="#f59200" stroke="#000" stroke-width="0.8" stroke-linejoin="miter"/>
<text x="129.80" y="243.20" font-size="9" text-anchor="start" >mp37</text>
<polyline points="60.20,251.90 116.10,251.90" fill="none" stroke="#111" stroke-width="1.25" stroke-dasharray="7.3 2.4" stroke-linejoin="round"/>
<rect x="86.30" y="250.00" width="3.8" height="3.8" fill="#d2c800" stroke="#000" stroke-width="0.8"/>
<text x="129.80" y="255.00" font-size="9" text-anchor="start" >mp39</text>
<polyline points="60.20,263.70 116.10,263.70" fill="none" stroke="#111" stroke-width="1.25" stroke-dasharray="9.3 2.3 1 2.4 1 2.5" stroke-linejoin="round"/>
<polygon points="88.20,260.90 91.00,263.70 88.20,266.50 85.40,263.70" fill="#00a400" stroke="#000" stroke-width="0.8"/>
<text x="129.80" y="266.80" font-size="9" text-anchor="start" >mp40</text>
<rect x="48.60" y="221.10" width="253.90" height="142.90" fill="none" stroke="#4a4a4a" stroke-width="1.5"/>
<line x1="359.50" y1="364.00" x2="359.50" y2="368.30" stroke="#4a4a4a" stroke-width="1.2"/>
<text x="359.50" y="378.10" font-size="7.2" text-anchor="middle" class="s">0</text>
<line x1="365.59" y1="364.00" x2="365.59" y2="368.30" stroke="#4a4a4a" stroke-width="1.2"/>
<text x="365.59" y="378.10" font-size="7.2" text-anchor="middle" class="s">1</text>
<line x1="377.77" y1="364.00" x2="377.77" y2="368.30" stroke="#4a4a4a" stroke-width="1.2"/>
<text x="377.77" y="378.10" font-size="7.2" text-anchor="middle" class="s">3</text>
<line x1="389.95" y1="364.00" x2="389.95" y2="368.30" stroke="#4a4a4a" stroke-width="1.2"/>
<text x="389.95" y="378.10" font-size="7.2" text-anchor="middle" class="s">5</text>
<line x1="408.22" y1="364.00" x2="408.22" y2="368.30" stroke="#4a4a4a" stroke-width="1.2"/>
<text x="408.22" y="378.10" font-size="7.2" text-anchor="middle" class="s">8</text>
<line x1="426.49" y1="364.00" x2="426.49" y2="368.30" stroke="#4a4a4a" stroke-width="1.2"/>
<text x="426.49" y="378.10" font-size="7.2" text-anchor="middle" class="s">11</text>
<line x1="444.76" y1="364.00" x2="444.76" y2="368.30" stroke="#4a4a4a" stroke-width="1.2"/>
<text x="444.76" y="378.10" font-size="7.2" text-anchor="middle" class="s">14</text>
<line x1="463.03" y1="364.00" x2="463.03" y2="368.30" stroke="#4a4a4a" stroke-width="1.2"/>
<text x="463.03" y="378.10" font-size="7.2" text-anchor="middle" class="s">17</text>
<line x1="487.39" y1="364.00" x2="487.39" y2="368.30" stroke="#4a4a4a" stroke-width="1.2"/>
<text x="487.39" y="378.10" font-size="7.2" text-anchor="middle" class="s">21</text>
<line x1="505.66" y1="364.00" x2="505.66" y2="368.30" stroke="#4a4a4a" stroke-width="1.2"/>
<text x="505.66" y="378.10" font-size="7.2" text-anchor="middle" class="s">24</text>
<line x1="523.93" y1="364.00" x2="523.93" y2="368.30" stroke="#4a4a4a" stroke-width="1.2"/>
<text x="523.93" y="378.10" font-size="7.2" text-anchor="middle" class="s">27</text>
<line x1="536.11" y1="364.00" x2="536.11" y2="368.30" stroke="#4a4a4a" stroke-width="1.2"/>
<text x="536.11" y="378.10" font-size="7.2" text-anchor="middle" class="s">29</text>
<line x1="343.30" y1="357.25" x2="347.60" y2="357.25" stroke="#4a4a4a" stroke-width="1.3"/>
<text class="s" x="0" y="0" font-size="7" text-anchor="end" transform="translate(340.20,359.95) scale(1,1.18)">1e+0</text>
<line x1="343.30" y1="334.55" x2="347.60" y2="334.55" stroke="#4a4a4a" stroke-width="1.3"/>
<text class="s" x="0" y="0" font-size="7" text-anchor="end" transform="translate(340.20,337.25) scale(1,1.18)">1e+1</text>
<line x1="343.30" y1="311.85" x2="347.60" y2="311.85" stroke="#4a4a4a" stroke-width="1.3"/>
<text class="s" x="0" y="0" font-size="7" text-anchor="end" transform="translate(340.20,314.55) scale(1,1.18)">1e+2</text>
<line x1="343.30" y1="289.15" x2="347.60" y2="289.15" stroke="#4a4a4a" stroke-width="1.3"/>
<text class="s" x="0" y="0" font-size="7" text-anchor="end" transform="translate(340.20,291.85) scale(1,1.18)">1e+3</text>
<line x1="343.30" y1="266.45" x2="347.60" y2="266.45" stroke="#4a4a4a" stroke-width="1.3"/>
<text class="s" x="0" y="0" font-size="7" text-anchor="end" transform="translate(340.20,269.15) scale(1,1.18)">1e+4</text>
<line x1="343.30" y1="243.75" x2="347.60" y2="243.75" stroke="#4a4a4a" stroke-width="1.3"/>
<text class="s" x="0" y="0" font-size="7" text-anchor="end" transform="translate(340.20,246.45) scale(1,1.18)">1e+5</text>
<line x1="343.30" y1="221.05" x2="347.60" y2="221.05" stroke="#4a4a4a" stroke-width="1.3"/>
<text class="s" x="0" y="0" font-size="7" text-anchor="end" transform="translate(340.20,223.75) scale(1,1.18)">1e+6</text>
<polyline points="359.50,357.25 365.59,357.25 377.77,357.25 389.95,357.25 408.22,357.25 426.49,352.71 444.76,357.25" fill="none" stroke="#111" stroke-width="1.25" stroke-linejoin="round"/>
<polyline points="359.50,357.25 365.59,357.25 377.77,357.25 389.95,357.25 408.22,357.25 426.49,357.25 444.76,352.94 463.03,352.71 487.39,357.25 505.66,357.25 523.93,357.25 536.11,357.25" fill="none" stroke="#111" stroke-width="1.25" stroke-dasharray="1 2.3" stroke-linejoin="round"/>
<polyline points="359.50,357.25 365.59,357.25 377.77,357.25 389.95,357.25 408.22,357.25 426.49,352.71 444.76,357.25 463.03,357.25 487.39,357.25 505.66,344.76 523.93,357.25 536.11,330.92" fill="none" stroke="#111" stroke-width="1.25" stroke-dasharray="7.3 2.4" stroke-linejoin="round"/>
<polyline points="359.50,357.25 365.59,357.25 377.77,357.25 389.95,357.25 408.22,357.25 426.49,334.10 444.76,357.25 463.03,357.25 487.39,352.48 505.66,357.25 523.93,352.71 536.11,357.25" fill="none" stroke="#111" stroke-width="1.25" stroke-dasharray="9.3 2.3 1 2.4 1 2.5" stroke-linejoin="round"/>
<polygon points="357.10,356.15 361.90,356.15 359.50,360.15" fill="#f59200" stroke="#000" stroke-width="0.8" stroke-linejoin="miter"/>
<polygon points="363.19,356.15 367.99,356.15 365.59,360.15" fill="#f59200" stroke="#000" stroke-width="0.8" stroke-linejoin="miter"/>
<polygon points="375.37,356.15 380.17,356.15 377.77,360.15" fill="#f59200" stroke="#000" stroke-width="0.8" stroke-linejoin="miter"/>
<polygon points="387.55,356.15 392.35,356.15 389.95,360.15" fill="#f59200" stroke="#000" stroke-width="0.8" stroke-linejoin="miter"/>
<polygon points="405.82,356.15 410.62,356.15 408.22,360.15" fill="#f59200" stroke="#000" stroke-width="0.8" stroke-linejoin="miter"/>
<polygon points="424.09,356.15 428.89,356.15 426.49,360.15" fill="#f59200" stroke="#000" stroke-width="0.8" stroke-linejoin="miter"/>
<polygon points="442.36,351.84 447.16,351.84 444.76,355.84" fill="#f59200" stroke="#000" stroke-width="0.8" stroke-linejoin="miter"/>
<polygon points="460.63,351.61 465.43,351.61 463.03,355.61" fill="#f59200" stroke="#000" stroke-width="0.8" stroke-linejoin="miter"/>
<polygon points="484.99,356.15 489.79,356.15 487.39,360.15" fill="#f59200" stroke="#000" stroke-width="0.8" stroke-linejoin="miter"/>
<polygon points="503.26,356.15 508.06,356.15 505.66,360.15" fill="#f59200" stroke="#000" stroke-width="0.8" stroke-linejoin="miter"/>
<polygon points="521.53,356.15 526.33,356.15 523.93,360.15" fill="#f59200" stroke="#000" stroke-width="0.8" stroke-linejoin="miter"/>
<polygon points="533.71,356.15 538.51,356.15 536.11,360.15" fill="#f59200" stroke="#000" stroke-width="0.8" stroke-linejoin="miter"/>
<rect x="357.60" y="355.35" width="3.8" height="3.8" fill="#d2c800" stroke="#000" stroke-width="0.8"/>
<rect x="363.69" y="355.35" width="3.8" height="3.8" fill="#d2c800" stroke="#000" stroke-width="0.8"/>
<rect x="375.87" y="355.35" width="3.8" height="3.8" fill="#d2c800" stroke="#000" stroke-width="0.8"/>
<rect x="388.05" y="355.35" width="3.8" height="3.8" fill="#d2c800" stroke="#000" stroke-width="0.8"/>
<rect x="406.32" y="355.35" width="3.8" height="3.8" fill="#d2c800" stroke="#000" stroke-width="0.8"/>
<rect x="424.59" y="350.81" width="3.8" height="3.8" fill="#d2c800" stroke="#000" stroke-width="0.8"/>
<rect x="442.86" y="355.35" width="3.8" height="3.8" fill="#d2c800" stroke="#000" stroke-width="0.8"/>
<rect x="461.13" y="355.35" width="3.8" height="3.8" fill="#d2c800" stroke="#000" stroke-width="0.8"/>
<rect x="485.49" y="355.35" width="3.8" height="3.8" fill="#d2c800" stroke="#000" stroke-width="0.8"/>
<rect x="503.76" y="342.87" width="3.8" height="3.8" fill="#d2c800" stroke="#000" stroke-width="0.8"/>
<rect x="522.03" y="355.35" width="3.8" height="3.8" fill="#d2c800" stroke="#000" stroke-width="0.8"/>
<rect x="534.21" y="329.02" width="3.8" height="3.8" fill="#d2c800" stroke="#000" stroke-width="0.8"/>
<polygon points="359.50,354.45 362.30,357.25 359.50,360.05 356.70,357.25" fill="#00a400" stroke="#000" stroke-width="0.8"/>
<polygon points="365.59,354.45 368.39,357.25 365.59,360.05 362.79,357.25" fill="#00a400" stroke="#000" stroke-width="0.8"/>
<polygon points="377.77,354.45 380.57,357.25 377.77,360.05 374.97,357.25" fill="#00a400" stroke="#000" stroke-width="0.8"/>
<polygon points="389.95,354.45 392.75,357.25 389.95,360.05 387.15,357.25" fill="#00a400" stroke="#000" stroke-width="0.8"/>
<polygon points="408.22,354.45 411.02,357.25 408.22,360.05 405.42,357.25" fill="#00a400" stroke="#000" stroke-width="0.8"/>
<polygon points="426.49,331.30 429.29,334.10 426.49,336.90 423.69,334.10" fill="#00a400" stroke="#000" stroke-width="0.8"/>
<polygon points="444.76,354.45 447.56,357.25 444.76,360.05 441.96,357.25" fill="#00a400" stroke="#000" stroke-width="0.8"/>
<polygon points="463.03,354.45 465.83,357.25 463.03,360.05 460.23,357.25" fill="#00a400" stroke="#000" stroke-width="0.8"/>
<polygon points="487.39,349.68 490.19,352.48 487.39,355.28 484.59,352.48" fill="#00a400" stroke="#000" stroke-width="0.8"/>
<polygon points="505.66,354.45 508.46,357.25 505.66,360.05 502.86,357.25" fill="#00a400" stroke="#000" stroke-width="0.8"/>
<polygon points="523.93,349.91 526.73,352.71 523.93,355.51 521.13,352.71" fill="#00a400" stroke="#000" stroke-width="0.8"/>
<polygon points="536.11,354.45 538.91,357.25 536.11,360.05 533.31,357.25" fill="#00a400" stroke="#000" stroke-width="0.8"/>
<rect x="347.60" y="221.10" width="201.00" height="142.90" fill="none" stroke="#4a4a4a" stroke-width="1.5"/>
<line x1="587.80" y1="364.00" x2="587.80" y2="368.30" stroke="#4a4a4a" stroke-width="1.2"/>
<text x="587.80" y="378.10" font-size="7.2" text-anchor="middle" class="s">0</text>
<line x1="593.88" y1="364.00" x2="593.88" y2="368.30" stroke="#4a4a4a" stroke-width="1.2"/>
<text x="593.88" y="378.10" font-size="7.2" text-anchor="middle" class="s">1</text>
<line x1="606.04" y1="364.00" x2="606.04" y2="368.30" stroke="#4a4a4a" stroke-width="1.2"/>
<text x="606.04" y="378.10" font-size="7.2" text-anchor="middle" class="s">3</text>
<line x1="618.20" y1="364.00" x2="618.20" y2="368.30" stroke="#4a4a4a" stroke-width="1.2"/>
<text x="618.20" y="378.10" font-size="7.2" text-anchor="middle" class="s">5</text>
<line x1="636.44" y1="364.00" x2="636.44" y2="368.30" stroke="#4a4a4a" stroke-width="1.2"/>
<text x="636.44" y="378.10" font-size="7.2" text-anchor="middle" class="s">8</text>
<line x1="654.68" y1="364.00" x2="654.68" y2="368.30" stroke="#4a4a4a" stroke-width="1.2"/>
<text x="654.68" y="378.10" font-size="7.2" text-anchor="middle" class="s">11</text>
<line x1="672.92" y1="364.00" x2="672.92" y2="368.30" stroke="#4a4a4a" stroke-width="1.2"/>
<text x="672.92" y="378.10" font-size="7.2" text-anchor="middle" class="s">14</text>
<line x1="691.16" y1="364.00" x2="691.16" y2="368.30" stroke="#4a4a4a" stroke-width="1.2"/>
<text x="691.16" y="378.10" font-size="7.2" text-anchor="middle" class="s">17</text>
<line x1="715.48" y1="364.00" x2="715.48" y2="368.30" stroke="#4a4a4a" stroke-width="1.2"/>
<text x="715.48" y="378.10" font-size="7.2" text-anchor="middle" class="s">21</text>
<line x1="733.72" y1="364.00" x2="733.72" y2="368.30" stroke="#4a4a4a" stroke-width="1.2"/>
<text x="733.72" y="378.10" font-size="7.2" text-anchor="middle" class="s">24</text>
<line x1="751.96" y1="364.00" x2="751.96" y2="368.30" stroke="#4a4a4a" stroke-width="1.2"/>
<text x="751.96" y="378.10" font-size="7.2" text-anchor="middle" class="s">27</text>
<line x1="764.12" y1="364.00" x2="764.12" y2="368.30" stroke="#4a4a4a" stroke-width="1.2"/>
<text x="764.12" y="378.10" font-size="7.2" text-anchor="middle" class="s">29</text>
<line x1="571.30" y1="357.25" x2="575.60" y2="357.25" stroke="#4a4a4a" stroke-width="1.3"/>
<text class="s" x="0" y="0" font-size="7" text-anchor="end" transform="translate(568.20,359.95) scale(1,1.18)">1e+0</text>
<line x1="571.30" y1="334.55" x2="575.60" y2="334.55" stroke="#4a4a4a" stroke-width="1.3"/>
<text class="s" x="0" y="0" font-size="7" text-anchor="end" transform="translate(568.20,337.25) scale(1,1.18)">1e+1</text>
<line x1="571.30" y1="311.85" x2="575.60" y2="311.85" stroke="#4a4a4a" stroke-width="1.3"/>
<text class="s" x="0" y="0" font-size="7" text-anchor="end" transform="translate(568.20,314.55) scale(1,1.18)">1e+2</text>
<line x1="571.30" y1="289.15" x2="575.60" y2="289.15" stroke="#4a4a4a" stroke-width="1.3"/>
<text class="s" x="0" y="0" font-size="7" text-anchor="end" transform="translate(568.20,291.85) scale(1,1.18)">1e+3</text>
<line x1="571.30" y1="266.45" x2="575.60" y2="266.45" stroke="#4a4a4a" stroke-width="1.3"/>
<text class="s" x="0" y="0" font-size="7" text-anchor="end" transform="translate(568.20,269.15) scale(1,1.18)">1e+4</text>
<line x1="571.30" y1="243.75" x2="575.60" y2="243.75" stroke="#4a4a4a" stroke-width="1.3"/>
<text class="s" x="0" y="0" font-size="7" text-anchor="end" transform="translate(568.20,246.45) scale(1,1.18)">1e+5</text>
<line x1="571.30" y1="221.05" x2="575.60" y2="221.05" stroke="#4a4a4a" stroke-width="1.3"/>
<text class="s" x="0" y="0" font-size="7" text-anchor="end" transform="translate(568.20,223.75) scale(1,1.18)">1e+6</text>
<polyline points="587.80,357.25 593.88,357.25 606.04,357.25 618.20,290.97 636.44,301.86 654.68,275.98 672.92,275.98 691.16,280.98 715.48,328.42 733.72,350.67 751.96,357.25 764.12,356.57" fill="none" stroke="#111" stroke-width="1.25" stroke-dasharray="1 2.3" stroke-linejoin="round"/>
<polyline points="587.80,357.25 593.88,357.25 606.04,341.81 618.20,316.62 636.44,309.81 654.68,292.78 672.92,266.45 691.16,254.87 715.48,286.20 733.72,284.61 751.96,287.79 764.12,274.85" fill="none" stroke="#111" stroke-width="1.25" stroke-dasharray="7.3 2.4" stroke-linejoin="round"/>
<polyline points="587.80,357.25 593.88,357.25 606.04,346.81 618.20,324.33 636.44,312.99 654.68,305.04 672.92,285.75 691.16,285.75 715.48,318.66 733.72,340.23 751.96,340.00 764.12,357.25" fill="none" stroke="#111" stroke-width="1.25" stroke-dasharray="9.3 2.3 1 2.4 1 2.5" stroke-linejoin="round"/>
<polygon points="585.40,356.15 590.20,356.15 587.80,360.15" fill="#f59200" stroke="#000" stroke-width="0.8" stroke-linejoin="miter"/>
<polygon points="591.48,356.15 596.28,356.15 593.88,360.15" fill="#f59200" stroke="#000" stroke-width="0.8" stroke-linejoin="miter"/>
<polygon points="603.64,356.15 608.44,356.15 606.04,360.15" fill="#f59200" stroke="#000" stroke-width="0.8" stroke-linejoin="miter"/>
<polygon points="615.80,289.87 620.60,289.87 618.20,293.87" fill="#f59200" stroke="#000" stroke-width="0.8" stroke-linejoin="miter"/>
<polygon points="634.04,300.76 638.84,300.76 636.44,304.76" fill="#f59200" stroke="#000" stroke-width="0.8" stroke-linejoin="miter"/>
<polygon points="652.28,274.88 657.08,274.88 654.68,278.88" fill="#f59200" stroke="#000" stroke-width="0.8" stroke-linejoin="miter"/>
<polygon points="670.52,274.88 675.32,274.88 672.92,278.88" fill="#f59200" stroke="#000" stroke-width="0.8" stroke-linejoin="miter"/>
<polygon points="688.76,279.88 693.56,279.88 691.16,283.88" fill="#f59200" stroke="#000" stroke-width="0.8" stroke-linejoin="miter"/>
<polygon points="713.08,327.32 717.88,327.32 715.48,331.32" fill="#f59200" stroke="#000" stroke-width="0.8" stroke-linejoin="miter"/>
<polygon points="731.32,349.57 736.12,349.57 733.72,353.57" fill="#f59200" stroke="#000" stroke-width="0.8" stroke-linejoin="miter"/>
<polygon points="749.56,356.15 754.36,356.15 751.96,360.15" fill="#f59200" stroke="#000" stroke-width="0.8" stroke-linejoin="miter"/>
<polygon points="761.72,355.47 766.52,355.47 764.12,359.47" fill="#f59200" stroke="#000" stroke-width="0.8" stroke-linejoin="miter"/>
<rect x="585.90" y="355.35" width="3.8" height="3.8" fill="#d2c800" stroke="#000" stroke-width="0.8"/>
<rect x="591.98" y="355.35" width="3.8" height="3.8" fill="#d2c800" stroke="#000" stroke-width="0.8"/>
<rect x="604.14" y="339.91" width="3.8" height="3.8" fill="#d2c800" stroke="#000" stroke-width="0.8"/>
<rect x="616.30" y="314.72" width="3.8" height="3.8" fill="#d2c800" stroke="#000" stroke-width="0.8"/>
<rect x="634.54" y="307.91" width="3.8" height="3.8" fill="#d2c800" stroke="#000" stroke-width="0.8"/>
<rect x="652.78" y="290.88" width="3.8" height="3.8" fill="#d2c800" stroke="#000" stroke-width="0.8"/>
<rect x="671.02" y="264.55" width="3.8" height="3.8" fill="#d2c800" stroke="#000" stroke-width="0.8"/>
<rect x="689.26" y="252.97" width="3.8" height="3.8" fill="#d2c800" stroke="#000" stroke-width="0.8"/>
<rect x="713.58" y="284.30" width="3.8" height="3.8" fill="#d2c800" stroke="#000" stroke-width="0.8"/>
<rect x="731.82" y="282.71" width="3.8" height="3.8" fill="#d2c800" stroke="#000" stroke-width="0.8"/>
<rect x="750.06" y="285.89" width="3.8" height="3.8" fill="#d2c800" stroke="#000" stroke-width="0.8"/>
<rect x="762.22" y="272.95" width="3.8" height="3.8" fill="#d2c800" stroke="#000" stroke-width="0.8"/>
<polygon points="587.80,354.45 590.60,357.25 587.80,360.05 585.00,357.25" fill="#00a400" stroke="#000" stroke-width="0.8"/>
<polygon points="593.88,354.45 596.68,357.25 593.88,360.05 591.08,357.25" fill="#00a400" stroke="#000" stroke-width="0.8"/>
<polygon points="606.04,344.01 608.84,346.81 606.04,349.61 603.24,346.81" fill="#00a400" stroke="#000" stroke-width="0.8"/>
<polygon points="618.20,321.53 621.00,324.33 618.20,327.13 615.40,324.33" fill="#00a400" stroke="#000" stroke-width="0.8"/>
<polygon points="636.44,310.19 639.24,312.99 636.44,315.79 633.64,312.99" fill="#00a400" stroke="#000" stroke-width="0.8"/>
<polygon points="654.68,302.24 657.48,305.04 654.68,307.84 651.88,305.04" fill="#00a400" stroke="#000" stroke-width="0.8"/>
<polygon points="672.92,282.94 675.72,285.75 672.92,288.55 670.12,285.75" fill="#00a400" stroke="#000" stroke-width="0.8"/>
<polygon points="691.16,282.94 693.96,285.75 691.16,288.55 688.36,285.75" fill="#00a400" stroke="#000" stroke-width="0.8"/>
<polygon points="715.48,315.86 718.28,318.66 715.48,321.46 712.68,318.66" fill="#00a400" stroke="#000" stroke-width="0.8"/>
<polygon points="733.72,337.43 736.52,340.23 733.72,343.03 730.92,340.23" fill="#00a400" stroke="#000" stroke-width="0.8"/>
<polygon points="751.96,337.20 754.76,340.00 751.96,342.80 749.16,340.00" fill="#00a400" stroke="#000" stroke-width="0.8"/>
<polygon points="764.12,354.45 766.92,357.25 764.12,360.05 761.32,357.25" fill="#00a400" stroke="#000" stroke-width="0.8"/>
<rect x="575.60" y="221.10" width="200.70" height="142.90" fill="none" stroke="#4a4a4a" stroke-width="1.5"/>
<line x1="49.6" y1="509.85" x2="301.5" y2="509.85" stroke="#cfcfc2" stroke-width="1.8" stroke-dasharray="7 2.6"/>
<line x1="63.50" y1="548.70" x2="63.50" y2="553.00" stroke="#4a4a4a" stroke-width="1.2"/>
<text x="63.50" y="562.80" font-size="7.2" text-anchor="middle" class="s">0</text>
<line x1="86.66" y1="548.70" x2="86.66" y2="553.00" stroke="#4a4a4a" stroke-width="1.2"/>
<text x="86.66" y="562.80" font-size="7.2" text-anchor="middle" class="s">3</text>
<line x1="117.54" y1="548.70" x2="117.54" y2="553.00" stroke="#4a4a4a" stroke-width="1.2"/>
<text x="117.54" y="562.80" font-size="7.2" text-anchor="middle" class="s">7</text>
<line x1="140.70" y1="548.70" x2="140.70" y2="553.00" stroke="#4a4a4a" stroke-width="1.2"/>
<text x="140.70" y="562.80" font-size="7.2" text-anchor="middle" class="s">10</text>
<line x1="171.58" y1="548.70" x2="171.58" y2="553.00" stroke="#4a4a4a" stroke-width="1.2"/>
<text x="171.58" y="562.80" font-size="7.2" text-anchor="middle" class="s">14</text>
<line x1="194.74" y1="548.70" x2="194.74" y2="553.00" stroke="#4a4a4a" stroke-width="1.2"/>
<text x="194.74" y="562.80" font-size="7.2" text-anchor="middle" class="s">17</text>
<line x1="225.62" y1="548.70" x2="225.62" y2="553.00" stroke="#4a4a4a" stroke-width="1.2"/>
<text x="225.62" y="562.80" font-size="7.2" text-anchor="middle" class="s">21</text>
<line x1="256.50" y1="548.70" x2="256.50" y2="553.00" stroke="#4a4a4a" stroke-width="1.2"/>
<text x="256.50" y="562.80" font-size="7.2" text-anchor="middle" class="s">25</text>
<line x1="279.66" y1="548.70" x2="279.66" y2="553.00" stroke="#4a4a4a" stroke-width="1.2"/>
<text x="279.66" y="562.80" font-size="7.2" text-anchor="middle" class="s">28</text>
<line x1="44.10" y1="542.30" x2="48.60" y2="542.30" stroke="#4a4a4a" stroke-width="1.3"/>
<text x="39.00" y="544.80" font-size="7.2" text-anchor="middle" class="s">0</text>
<line x1="44.10" y1="509.85" x2="48.60" y2="509.85" stroke="#4a4a4a" stroke-width="1.3"/>
<text x="39.00" y="512.35" font-size="7.2" text-anchor="middle" class="s">1</text>
<line x1="44.10" y1="477.40" x2="48.60" y2="477.40" stroke="#4a4a4a" stroke-width="1.3"/>
<text x="39.00" y="479.90" font-size="7.2" text-anchor="middle" class="s">2</text>
<line x1="44.10" y1="444.95" x2="48.60" y2="444.95" stroke="#4a4a4a" stroke-width="1.3"/>
<text x="39.00" y="447.45" font-size="7.2" text-anchor="middle" class="s">3</text>
<line x1="44.10" y1="412.50" x2="48.60" y2="412.50" stroke="#4a4a4a" stroke-width="1.3"/>
<text x="39.00" y="415.00" font-size="7.2" text-anchor="middle" class="s">4</text>
<polyline points="63.50,537.11 86.66,534.19 117.54,537.11 140.70,533.54 171.58,520.23 194.74,521.86 225.62,518.94 256.50,445.27 279.66,443.00" fill="none" stroke="#111" stroke-width="1.25" stroke-linejoin="round"/>
<polyline points="63.50,539.70 86.66,539.38 117.54,539.05 140.70,539.05 171.58,539.05 194.74,538.41 225.62,536.78 256.50,520.88 279.66,492.00" fill="none" stroke="#111" stroke-width="1.25" stroke-dasharray="1 2.3" stroke-linejoin="round"/>
<polyline points="63.50,540.35 86.66,540.03 117.54,540.35 140.70,540.68 171.58,540.03 194.74,540.35 225.62,540.35 256.50,540.03 279.66,540.03" fill="none" stroke="#111" stroke-width="1.25" stroke-dasharray="7.3 2.4" stroke-linejoin="round"/>
<polyline points="63.50,540.35 86.66,539.70 117.54,536.78 140.70,538.73 171.58,538.73 194.74,537.76 225.62,536.46 256.50,529.00 279.66,534.51" fill="none" stroke="#111" stroke-width="1.25" stroke-dasharray="9.3 2.3 1 2.4 1 2.5" stroke-linejoin="round"/>
<circle cx="63.50" cy="537.11" r="2.3" fill="#b00000" stroke="#000" stroke-width="0.8"/>
<circle cx="86.66" cy="534.19" r="2.3" fill="#b00000" stroke="#000" stroke-width="0.8"/>
<circle cx="117.54" cy="537.11" r="2.3" fill="#b00000" stroke="#000" stroke-width="0.8"/>
<circle cx="140.70" cy="533.54" r="2.3" fill="#b00000" stroke="#000" stroke-width="0.8"/>
<circle cx="171.58" cy="520.23" r="2.3" fill="#b00000" stroke="#000" stroke-width="0.8"/>
<circle cx="194.74" cy="521.86" r="2.3" fill="#b00000" stroke="#000" stroke-width="0.8"/>
<circle cx="225.62" cy="518.94" r="2.3" fill="#b00000" stroke="#000" stroke-width="0.8"/>
<circle cx="256.50" cy="445.27" r="2.3" fill="#b00000" stroke="#000" stroke-width="0.8"/>
<circle cx="279.66" cy="443.00" r="2.3" fill="#b00000" stroke="#000" stroke-width="0.8"/>
<polygon points="61.10,538.60 65.90,538.60 63.50,542.60" fill="#f59200" stroke="#000" stroke-width="0.8" stroke-linejoin="miter"/>
<polygon points="84.26,538.28 89.06,538.28 86.66,542.28" fill="#f59200" stroke="#000" stroke-width="0.8" stroke-linejoin="miter"/>
<polygon points="115.14,537.95 119.94,537.95 117.54,541.95" fill="#f59200" stroke="#000" stroke-width="0.8" stroke-linejoin="miter"/>
<polygon points="138.30,537.95 143.10,537.95 140.70,541.95" fill="#f59200" stroke="#000" stroke-width="0.8" stroke-linejoin="miter"/>
<polygon points="169.18,537.95 173.98,537.95 171.58,541.95" fill="#f59200" stroke="#000" stroke-width="0.8" stroke-linejoin="miter"/>
<polygon points="192.34,537.31 197.14,537.31 194.74,541.31" fill="#f59200" stroke="#000" stroke-width="0.8" stroke-linejoin="miter"/>
<polygon points="223.22,535.68 228.02,535.68 225.62,539.68" fill="#f59200" stroke="#000" stroke-width="0.8" stroke-linejoin="miter"/>
<polygon points="254.10,519.78 258.90,519.78 256.50,523.78" fill="#f59200" stroke="#000" stroke-width="0.8" stroke-linejoin="miter"/>
<polygon points="277.26,490.90 282.06,490.90 279.66,494.90" fill="#f59200" stroke="#000" stroke-width="0.8" stroke-linejoin="miter"/>
<rect x="61.60" y="538.45" width="3.8" height="3.8" fill="#d2c800" stroke="#000" stroke-width="0.8"/>
<rect x="84.76" y="538.13" width="3.8" height="3.8" fill="#d2c800" stroke="#000" stroke-width="0.8"/>
<rect x="115.64" y="538.45" width="3.8" height="3.8" fill="#d2c800" stroke="#000" stroke-width="0.8"/>
<rect x="138.80" y="538.78" width="3.8" height="3.8" fill="#d2c800" stroke="#000" stroke-width="0.8"/>
<rect x="169.68" y="538.13" width="3.8" height="3.8" fill="#d2c800" stroke="#000" stroke-width="0.8"/>
<rect x="192.84" y="538.45" width="3.8" height="3.8" fill="#d2c800" stroke="#000" stroke-width="0.8"/>
<rect x="223.72" y="538.45" width="3.8" height="3.8" fill="#d2c800" stroke="#000" stroke-width="0.8"/>
<rect x="254.60" y="538.13" width="3.8" height="3.8" fill="#d2c800" stroke="#000" stroke-width="0.8"/>
<rect x="277.76" y="538.13" width="3.8" height="3.8" fill="#d2c800" stroke="#000" stroke-width="0.8"/>
<polygon points="63.50,537.55 66.30,540.35 63.50,543.15 60.70,540.35" fill="#00a400" stroke="#000" stroke-width="0.8"/>
<polygon points="86.66,536.90 89.46,539.70 86.66,542.50 83.86,539.70" fill="#00a400" stroke="#000" stroke-width="0.8"/>
<polygon points="117.54,533.98 120.34,536.78 117.54,539.58 114.74,536.78" fill="#00a400" stroke="#000" stroke-width="0.8"/>
<polygon points="140.70,535.93 143.50,538.73 140.70,541.53 137.90,538.73" fill="#00a400" stroke="#000" stroke-width="0.8"/>
<polygon points="171.58,535.93 174.38,538.73 171.58,541.53 168.78,538.73" fill="#00a400" stroke="#000" stroke-width="0.8"/>
<polygon points="194.74,534.96 197.54,537.76 194.74,540.56 191.94,537.76" fill="#00a400" stroke="#000" stroke-width="0.8"/>
<polygon points="225.62,533.66 228.42,536.46 225.62,539.26 222.82,536.46" fill="#00a400" stroke="#000" stroke-width="0.8"/>
<polygon points="256.50,526.20 259.30,529.00 256.50,531.80 253.70,529.00" fill="#00a400" stroke="#000" stroke-width="0.8"/>
<polygon points="279.66,531.71 282.46,534.51 279.66,537.31 276.86,534.51" fill="#00a400" stroke="#000" stroke-width="0.8"/>
<polyline points="60.20,413.00 116.10,413.00" fill="none" stroke="#111" stroke-width="1.25" stroke-linejoin="round"/>
<circle cx="88.20" cy="413.00" r="2.3" fill="#b00000" stroke="#000" stroke-width="0.8"/>
<text x="129.80" y="416.10" font-size="9" text-anchor="start" >wb87</text>
<polyline points="60.20,424.80 116.10,424.80" fill="none" stroke="#111" stroke-width="1.25" stroke-dasharray="1 2.3" stroke-linejoin="round"/>
<polygon points="85.80,423.70 90.60,423.70 88.20,427.70" fill="#f59200" stroke="#000" stroke-width="0.8" stroke-linejoin="miter"/>
<text x="129.80" y="427.90" font-size="9" text-anchor="start" >mp63</text>
<polyline points="60.20,436.60 116.10,436.60" fill="none" stroke="#111" stroke-width="1.25" stroke-dasharray="7.3 2.4" stroke-linejoin="round"/>
<rect x="86.30" y="434.70" width="3.8" height="3.8" fill="#d2c800" stroke="#000" stroke-width="0.8"/>
<text x="129.80" y="439.70" font-size="9" text-anchor="start" >mp68</text>
<polyline points="60.20,448.40 116.10,448.40" fill="none" stroke="#111" stroke-width="1.25" stroke-dasharray="9.3 2.3 1 2.4 1 2.5" stroke-linejoin="round"/>
<polygon points="88.20,445.60 91.00,448.40 88.20,451.20 85.40,448.40" fill="#00a400" stroke="#000" stroke-width="0.8"/>
<text x="129.80" y="451.50" font-size="9" text-anchor="start" >mp79</text>
<rect x="48.60" y="405.80" width="253.90" height="142.90" fill="none" stroke="#4a4a4a" stroke-width="1.5"/>
<line x1="359.50" y1="548.70" x2="359.50" y2="553.00" stroke="#4a4a4a" stroke-width="1.2"/>
<text x="359.50" y="562.80" font-size="7.2" text-anchor="middle" class="s">0</text>
<line x1="377.77" y1="548.70" x2="377.77" y2="553.00" stroke="#4a4a4a" stroke-width="1.2"/>
<text x="377.77" y="562.80" font-size="7.2" text-anchor="middle" class="s">3</text>
<line x1="402.13" y1="548.70" x2="402.13" y2="553.00" stroke="#4a4a4a" stroke-width="1.2"/>
<text x="402.13" y="562.80" font-size="7.2" text-anchor="middle" class="s">7</text>
<line x1="420.40" y1="548.70" x2="420.40" y2="553.00" stroke="#4a4a4a" stroke-width="1.2"/>
<text x="420.40" y="562.80" font-size="7.2" text-anchor="middle" class="s">10</text>
<line x1="444.76" y1="548.70" x2="444.76" y2="553.00" stroke="#4a4a4a" stroke-width="1.2"/>
<text x="444.76" y="562.80" font-size="7.2" text-anchor="middle" class="s">14</text>
<line x1="463.03" y1="548.70" x2="463.03" y2="553.00" stroke="#4a4a4a" stroke-width="1.2"/>
<text x="463.03" y="562.80" font-size="7.2" text-anchor="middle" class="s">17</text>
<line x1="487.39" y1="548.70" x2="487.39" y2="553.00" stroke="#4a4a4a" stroke-width="1.2"/>
<text x="487.39" y="562.80" font-size="7.2" text-anchor="middle" class="s">21</text>
<line x1="511.75" y1="548.70" x2="511.75" y2="553.00" stroke="#4a4a4a" stroke-width="1.2"/>
<text x="511.75" y="562.80" font-size="7.2" text-anchor="middle" class="s">25</text>
<line x1="530.02" y1="548.70" x2="530.02" y2="553.00" stroke="#4a4a4a" stroke-width="1.2"/>
<text x="530.02" y="562.80" font-size="7.2" text-anchor="middle" class="s">28</text>
<line x1="343.30" y1="541.95" x2="347.60" y2="541.95" stroke="#4a4a4a" stroke-width="1.3"/>
<text class="s" x="0" y="0" font-size="7" text-anchor="end" transform="translate(340.20,544.65) scale(1,1.18)">1e+0</text>
<line x1="343.30" y1="519.25" x2="347.60" y2="519.25" stroke="#4a4a4a" stroke-width="1.3"/>
<text class="s" x="0" y="0" font-size="7" text-anchor="end" transform="translate(340.20,521.95) scale(1,1.18)">1e+1</text>
<line x1="343.30" y1="496.55" x2="347.60" y2="496.55" stroke="#4a4a4a" stroke-width="1.3"/>
<text class="s" x="0" y="0" font-size="7" text-anchor="end" transform="translate(340.20,499.25) scale(1,1.18)">1e+2</text>
<line x1="343.30" y1="473.85" x2="347.60" y2="473.85" stroke="#4a4a4a" stroke-width="1.3"/>
<text class="s" x="0" y="0" font-size="7" text-anchor="end" transform="translate(340.20,476.55) scale(1,1.18)">1e+3</text>
<line x1="343.30" y1="451.15" x2="347.60" y2="451.15" stroke="#4a4a4a" stroke-width="1.3"/>
<text class="s" x="0" y="0" font-size="7" text-anchor="end" transform="translate(340.20,453.85) scale(1,1.18)">1e+4</text>
<line x1="343.30" y1="428.45" x2="347.60" y2="428.45" stroke="#4a4a4a" stroke-width="1.3"/>
<text class="s" x="0" y="0" font-size="7" text-anchor="end" transform="translate(340.20,431.15) scale(1,1.18)">1e+5</text>
<line x1="343.30" y1="405.75" x2="347.60" y2="405.75" stroke="#4a4a4a" stroke-width="1.3"/>
<text class="s" x="0" y="0" font-size="7" text-anchor="end" transform="translate(340.20,408.45) scale(1,1.18)">1e+6</text>
<polyline points="359.50,541.95 377.77,541.95 402.13,541.95 420.40,532.42 444.76,541.95 463.03,529.24 487.39,539.91 511.75,528.10 530.02,516.30" fill="none" stroke="#111" stroke-width="1.25" stroke-linejoin="round"/>
<polyline points="359.50,541.95 377.77,536.96 402.13,526.51 420.40,541.95 444.76,529.01 463.03,541.95 487.39,541.95 511.75,541.95 530.02,541.95" fill="none" stroke="#111" stroke-width="1.25" stroke-dasharray="1 2.3" stroke-linejoin="round"/>
<polyline points="359.50,541.95 377.77,541.95 402.13,541.95 420.40,540.59 444.76,541.95 463.03,541.95 487.39,541.95 511.75,541.95 530.02,541.95" fill="none" stroke="#111" stroke-width="1.25" stroke-dasharray="7.3 2.4" stroke-linejoin="round"/>
<polyline points="359.50,541.95 377.77,541.95 402.13,541.95 420.40,541.95 444.76,541.95 463.03,541.95 487.39,541.95 511.75,541.95 530.02,541.95" fill="none" stroke="#111" stroke-width="1.25" stroke-dasharray="9.3 2.3 1 2.4 1 2.5" stroke-linejoin="round"/>
<polyline points="359.50,541.95 377.77,541.95 402.13,537.86 420.40,535.59 444.76,541.95 463.03,541.95 487.39,541.95 511.75,541.95 530.02,541.95" fill="none" stroke="#111" stroke-width="1.25" stroke-linejoin="round"/>
<polyline points="359.50,541.95 377.77,541.95 402.13,541.95 420.40,541.95 444.76,541.95 463.03,541.95 487.39,541.95 511.75,541.95 530.02,541.95" fill="none" stroke="#111" stroke-width="1.25" stroke-linejoin="round"/>
<polygon points="359.50,539.15 362.30,541.95 359.50,544.75 356.70,541.95" fill="#00a400" stroke="#000" stroke-width="0.8"/>
<polygon points="377.77,539.15 380.57,541.95 377.77,544.75 374.97,541.95" fill="#00a400" stroke="#000" stroke-width="0.8"/>
<polygon points="402.13,539.15 404.93,541.95 402.13,544.75 399.33,541.95" fill="#00a400" stroke="#000" stroke-width="0.8"/>
<polygon points="420.40,539.15 423.20,541.95 420.40,544.75 417.60,541.95" fill="#00a400" stroke="#000" stroke-width="0.8"/>
<polygon points="444.76,539.15 447.56,541.95 444.76,544.75 441.96,541.95" fill="#00a400" stroke="#000" stroke-width="0.8"/>
<polygon points="463.03,539.15 465.83,541.95 463.03,544.75 460.23,541.95" fill="#00a400" stroke="#000" stroke-width="0.8"/>
<polygon points="487.39,539.15 490.19,541.95 487.39,544.75 484.59,541.95" fill="#00a400" stroke="#000" stroke-width="0.8"/>
<polygon points="511.75,539.15 514.55,541.95 511.75,544.75 508.95,541.95" fill="#00a400" stroke="#000" stroke-width="0.8"/>
<polygon points="530.02,539.15 532.82,541.95 530.02,544.75 527.22,541.95" fill="#00a400" stroke="#000" stroke-width="0.8"/>
<polygon points="375.37,535.86 380.17,535.86 377.77,539.86" fill="#f59200" stroke="#000" stroke-width="0.8" stroke-linejoin="miter"/>
<polygon points="399.73,525.41 404.53,525.41 402.13,529.41" fill="#f59200" stroke="#000" stroke-width="0.8" stroke-linejoin="miter"/>
<polygon points="418.00,540.85 422.80,540.85 420.40,544.85" fill="#f59200" stroke="#000" stroke-width="0.8" stroke-linejoin="miter"/>
<polygon points="442.36,527.91 447.16,527.91 444.76,531.91" fill="#f59200" stroke="#000" stroke-width="0.8" stroke-linejoin="miter"/>
<circle cx="359.50" cy="541.95" r="2.4" fill="#1a8fa0" stroke="none"/>
<circle cx="377.77" cy="541.95" r="2.4" fill="#1a8fa0" stroke="none"/>
<circle cx="444.76" cy="541.95" r="2.4" fill="#1a8fa0" stroke="none"/>
<circle cx="463.03" cy="541.95" r="2.4" fill="#1a8fa0" stroke="none"/>
<circle cx="487.39" cy="541.95" r="2.4" fill="#1a8fa0" stroke="none"/>
<circle cx="511.75" cy="541.95" r="2.4" fill="#1a8fa0" stroke="none"/>
<circle cx="530.02" cy="541.95" r="2.4" fill="#1a8fa0" stroke="none"/>
<polygon points="357.40,543.55 361.60,543.55 359.50,539.75" fill="#1fb0c8" stroke="#000" stroke-width="0.8"/>
<polygon points="375.67,543.55 379.87,543.55 377.77,539.75" fill="#1fb0c8" stroke="#000" stroke-width="0.8"/>
<polygon points="400.03,539.46 404.23,539.46 402.13,535.66" fill="#1fb0c8" stroke="#000" stroke-width="0.8"/>
<polygon points="418.30,537.19 422.50,537.19 420.40,533.39" fill="#1fb0c8" stroke="#000" stroke-width="0.8"/>
<polygon points="442.66,543.55 446.86,543.55 444.76,539.75" fill="#1fb0c8" stroke="#000" stroke-width="0.8"/>
<polygon points="460.93,543.55 465.13,543.55 463.03,539.75" fill="#1fb0c8" stroke="#000" stroke-width="0.8"/>
<polygon points="485.29,543.55 489.49,543.55 487.39,539.75" fill="#1fb0c8" stroke="#000" stroke-width="0.8"/>
<polygon points="509.65,543.55 513.85,543.55 511.75,539.75" fill="#1fb0c8" stroke="#000" stroke-width="0.8"/>
<polygon points="527.92,543.55 532.12,543.55 530.02,539.75" fill="#1fb0c8" stroke="#000" stroke-width="0.8"/>
<circle cx="359.50" cy="541.95" r="2.35" fill="none" stroke="#000" stroke-width="1.2"/>
<circle cx="377.77" cy="541.95" r="2.35" fill="none" stroke="#000" stroke-width="1.2"/>
<circle cx="444.76" cy="541.95" r="2.35" fill="none" stroke="#000" stroke-width="1.2"/>
<circle cx="463.03" cy="541.95" r="2.35" fill="none" stroke="#000" stroke-width="1.2"/>
<circle cx="487.39" cy="541.95" r="2.35" fill="none" stroke="#000" stroke-width="1.2"/>
<circle cx="511.75" cy="541.95" r="2.35" fill="none" stroke="#000" stroke-width="1.2"/>
<circle cx="530.02" cy="541.95" r="2.35" fill="none" stroke="#000" stroke-width="1.2"/>
<rect x="400.23" y="540.05" width="3.8" height="3.8" fill="#d2c800" stroke="#000" stroke-width="0.8"/>
<rect x="418.50" y="538.69" width="3.8" height="3.8" fill="#d2c800" stroke="#000" stroke-width="0.8"/>
<circle cx="420.40" cy="532.42" r="2.3" fill="#b00000" stroke="#000" stroke-width="0.8"/>
<circle cx="463.03" cy="529.24" r="2.3" fill="#b00000" stroke="#000" stroke-width="0.8"/>
<circle cx="487.39" cy="539.91" r="2.3" fill="#b00000" stroke="#000" stroke-width="0.8"/>
<circle cx="511.75" cy="528.10" r="2.3" fill="#b00000" stroke="#000" stroke-width="0.8"/>
<circle cx="530.02" cy="516.30" r="2.3" fill="#b00000" stroke="#000" stroke-width="0.8"/>
<rect x="347.60" y="405.80" width="201.00" height="142.90" fill="none" stroke="#4a4a4a" stroke-width="1.5"/>
<line x1="587.80" y1="548.70" x2="587.80" y2="553.00" stroke="#4a4a4a" stroke-width="1.2"/>
<text x="587.80" y="562.80" font-size="7.2" text-anchor="middle" class="s">0</text>
<line x1="606.04" y1="548.70" x2="606.04" y2="553.00" stroke="#4a4a4a" stroke-width="1.2"/>
<text x="606.04" y="562.80" font-size="7.2" text-anchor="middle" class="s">3</text>
<line x1="618.20" y1="548.70" x2="618.20" y2="553.00" stroke="#4a4a4a" stroke-width="1.2"/>
<text x="618.20" y="562.80" font-size="7.2" text-anchor="middle" class="s">5</text>
<line x1="630.36" y1="548.70" x2="630.36" y2="553.00" stroke="#4a4a4a" stroke-width="1.2"/>
<text x="630.36" y="562.80" font-size="7.2" text-anchor="middle" class="s">7</text>
<line x1="648.60" y1="548.70" x2="648.60" y2="553.00" stroke="#4a4a4a" stroke-width="1.2"/>
<text x="648.60" y="562.80" font-size="7.2" text-anchor="middle" class="s">10</text>
<line x1="660.76" y1="548.70" x2="660.76" y2="553.00" stroke="#4a4a4a" stroke-width="1.2"/>
<text x="660.76" y="562.80" font-size="7.2" text-anchor="middle" class="s">12</text>
<line x1="672.92" y1="548.70" x2="672.92" y2="553.00" stroke="#4a4a4a" stroke-width="1.2"/>
<text x="672.92" y="562.80" font-size="7.2" text-anchor="middle" class="s">14</text>
<line x1="691.16" y1="548.70" x2="691.16" y2="553.00" stroke="#4a4a4a" stroke-width="1.2"/>
<text x="691.16" y="562.80" font-size="7.2" text-anchor="middle" class="s">17</text>
<line x1="715.48" y1="548.70" x2="715.48" y2="553.00" stroke="#4a4a4a" stroke-width="1.2"/>
<text x="715.48" y="562.80" font-size="7.2" text-anchor="middle" class="s">21</text>
<line x1="739.80" y1="548.70" x2="739.80" y2="553.00" stroke="#4a4a4a" stroke-width="1.2"/>
<text x="739.80" y="562.80" font-size="7.2" text-anchor="middle" class="s">25</text>
<line x1="758.04" y1="548.70" x2="758.04" y2="553.00" stroke="#4a4a4a" stroke-width="1.2"/>
<text x="758.04" y="562.80" font-size="7.2" text-anchor="middle" class="s">28</text>
<line x1="571.30" y1="541.95" x2="575.60" y2="541.95" stroke="#4a4a4a" stroke-width="1.3"/>
<text class="s" x="0" y="0" font-size="7" text-anchor="end" transform="translate(568.20,544.65) scale(1,1.18)">1e+0</text>
<line x1="571.30" y1="519.25" x2="575.60" y2="519.25" stroke="#4a4a4a" stroke-width="1.3"/>
<text class="s" x="0" y="0" font-size="7" text-anchor="end" transform="translate(568.20,521.95) scale(1,1.18)">1e+1</text>
<line x1="571.30" y1="496.55" x2="575.60" y2="496.55" stroke="#4a4a4a" stroke-width="1.3"/>
<text class="s" x="0" y="0" font-size="7" text-anchor="end" transform="translate(568.20,499.25) scale(1,1.18)">1e+2</text>
<line x1="571.30" y1="473.85" x2="575.60" y2="473.85" stroke="#4a4a4a" stroke-width="1.3"/>
<text class="s" x="0" y="0" font-size="7" text-anchor="end" transform="translate(568.20,476.55) scale(1,1.18)">1e+3</text>
<line x1="571.30" y1="451.15" x2="575.60" y2="451.15" stroke="#4a4a4a" stroke-width="1.3"/>
<text class="s" x="0" y="0" font-size="7" text-anchor="end" transform="translate(568.20,453.85) scale(1,1.18)">1e+4</text>
<line x1="571.30" y1="428.45" x2="575.60" y2="428.45" stroke="#4a4a4a" stroke-width="1.3"/>
<text class="s" x="0" y="0" font-size="7" text-anchor="end" transform="translate(568.20,431.15) scale(1,1.18)">1e+5</text>
<line x1="571.30" y1="405.75" x2="575.60" y2="405.75" stroke="#4a4a4a" stroke-width="1.3"/>
<text class="s" x="0" y="0" font-size="7" text-anchor="end" transform="translate(568.20,408.45) scale(1,1.18)">1e+6</text>
<polyline points="587.80,541.95 606.04,521.75 618.20,520.84 630.36,501.09 648.60,501.09 660.76,489.97 672.92,438.44 691.16,486.34 715.48,451.15 739.80,442.75 758.04,485.43" fill="none" stroke="#111" stroke-width="1.25" stroke-linejoin="round"/>
<polyline points="587.80,541.95 606.04,536.73 618.20,535.59 630.36,522.66 648.60,505.86 691.16,524.93 715.48,535.14 739.80,487.92 758.04,540.82" fill="none" stroke="#111" stroke-width="1.25" stroke-dasharray="1 2.3" stroke-linejoin="round"/>
<polyline points="587.80,541.95 606.04,541.95 618.20,541.95 630.36,533.32 648.60,530.60 672.92,524.24 691.16,472.72 715.48,449.11 739.80,518.57 758.04,541.95" fill="none" stroke="#111" stroke-width="1.25" stroke-dasharray="7.3 2.4" stroke-linejoin="round"/>
<polyline points="587.80,541.95 606.04,541.95 618.20,541.95 630.36,526.29 648.60,531.05 660.76,541.95 672.92,506.31 691.16,524.93 715.48,526.06 739.80,512.44 758.04,541.95" fill="none" stroke="#111" stroke-width="1.25" stroke-dasharray="9.3 2.3 1 2.4 1 2.5" stroke-linejoin="round"/>
<circle cx="587.80" cy="541.95" r="2.3" fill="#b00000" stroke="#000" stroke-width="0.8"/>
<circle cx="606.04" cy="521.75" r="2.3" fill="#b00000" stroke="#000" stroke-width="0.8"/>
<circle cx="618.20" cy="520.84" r="2.3" fill="#b00000" stroke="#000" stroke-width="0.8"/>
<circle cx="630.36" cy="501.09" r="2.3" fill="#b00000" stroke="#000" stroke-width="0.8"/>
<circle cx="648.60" cy="501.09" r="2.3" fill="#b00000" stroke="#000" stroke-width="0.8"/>
<circle cx="660.76" cy="489.97" r="2.3" fill="#b00000" stroke="#000" stroke-width="0.8"/>
<circle cx="672.92" cy="438.44" r="2.3" fill="#b00000" stroke="#000" stroke-width="0.8"/>
<circle cx="691.16" cy="486.34" r="2.3" fill="#b00000" stroke="#000" stroke-width="0.8"/>
<circle cx="715.48" cy="451.15" r="2.3" fill="#b00000" stroke="#000" stroke-width="0.8"/>
<circle cx="739.80" cy="442.75" r="2.3" fill="#b00000" stroke="#000" stroke-width="0.8"/>
<circle cx="758.04" cy="485.43" r="2.3" fill="#b00000" stroke="#000" stroke-width="0.8"/>
<polygon points="585.40,540.85 590.20,540.85 587.80,544.85" fill="#f59200" stroke="#000" stroke-width="0.8" stroke-linejoin="miter"/>
<polygon points="603.64,535.63 608.44,535.63 606.04,539.63" fill="#f59200" stroke="#000" stroke-width="0.8" stroke-linejoin="miter"/>
<polygon points="615.80,534.49 620.60,534.49 618.20,538.49" fill="#f59200" stroke="#000" stroke-width="0.8" stroke-linejoin="miter"/>
<polygon points="627.96,521.56 632.76,521.56 630.36,525.56" fill="#f59200" stroke="#000" stroke-width="0.8" stroke-linejoin="miter"/>
<polygon points="646.20,504.76 651.00,504.76 648.60,508.76" fill="#f59200" stroke="#000" stroke-width="0.8" stroke-linejoin="miter"/>
<polygon points="688.76,523.83 693.56,523.83 691.16,527.83" fill="#f59200" stroke="#000" stroke-width="0.8" stroke-linejoin="miter"/>
<polygon points="713.08,534.04 717.88,534.04 715.48,538.04" fill="#f59200" stroke="#000" stroke-width="0.8" stroke-linejoin="miter"/>
<polygon points="737.40,486.82 742.20,486.82 739.80,490.82" fill="#f59200" stroke="#000" stroke-width="0.8" stroke-linejoin="miter"/>
<polygon points="755.64,539.72 760.44,539.72 758.04,543.72" fill="#f59200" stroke="#000" stroke-width="0.8" stroke-linejoin="miter"/>
<rect x="585.90" y="540.05" width="3.8" height="3.8" fill="#d2c800" stroke="#000" stroke-width="0.8"/>
<rect x="604.14" y="540.05" width="3.8" height="3.8" fill="#d2c800" stroke="#000" stroke-width="0.8"/>
<rect x="616.30" y="540.05" width="3.8" height="3.8" fill="#d2c800" stroke="#000" stroke-width="0.8"/>
<rect x="628.46" y="531.42" width="3.8" height="3.8" fill="#d2c800" stroke="#000" stroke-width="0.8"/>
<rect x="646.70" y="528.70" width="3.8" height="3.8" fill="#d2c800" stroke="#000" stroke-width="0.8"/>
<rect x="671.02" y="522.34" width="3.8" height="3.8" fill="#d2c800" stroke="#000" stroke-width="0.8"/>
<rect x="689.26" y="470.82" width="3.8" height="3.8" fill="#d2c800" stroke="#000" stroke-width="0.8"/>
<rect x="713.58" y="447.21" width="3.8" height="3.8" fill="#d2c800" stroke="#000" stroke-width="0.8"/>
<rect x="737.90" y="516.67" width="3.8" height="3.8" fill="#d2c800" stroke="#000" stroke-width="0.8"/>
<rect x="756.14" y="540.05" width="3.8" height="3.8" fill="#d2c800" stroke="#000" stroke-width="0.8"/>
<polygon points="587.80,539.15 590.60,541.95 587.80,544.75 585.00,541.95" fill="#00a400" stroke="#000" stroke-width="0.8"/>
<polygon points="606.04,539.15 608.84,541.95 606.04,544.75 603.24,541.95" fill="#00a400" stroke="#000" stroke-width="0.8"/>
<polygon points="618.20,539.15 621.00,541.95 618.20,544.75 615.40,541.95" fill="#00a400" stroke="#000" stroke-width="0.8"/>
<polygon points="630.36,523.49 633.16,526.29 630.36,529.09 627.56,526.29" fill="#00a400" stroke="#000" stroke-width="0.8"/>
<polygon points="648.60,528.25 651.40,531.05 648.60,533.85 645.80,531.05" fill="#00a400" stroke="#000" stroke-width="0.8"/>
<polygon points="660.76,539.15 663.56,541.95 660.76,544.75 657.96,541.95" fill="#00a400" stroke="#000" stroke-width="0.8"/>
<polygon points="672.92,503.51 675.72,506.31 672.92,509.11 670.12,506.31" fill="#00a400" stroke="#000" stroke-width="0.8"/>
<polygon points="691.16,522.13 693.96,524.93 691.16,527.73 688.36,524.93" fill="#00a400" stroke="#000" stroke-width="0.8"/>
<polygon points="715.48,523.26 718.28,526.06 715.48,528.86 712.68,526.06" fill="#00a400" stroke="#000" stroke-width="0.8"/>
<polygon points="739.80,509.64 742.60,512.44 739.80,515.24 737.00,512.44" fill="#00a400" stroke="#000" stroke-width="0.8"/>
<polygon points="758.04,539.15 760.84,541.95 758.04,544.75 755.24,541.95" fill="#00a400" stroke="#000" stroke-width="0.8"/>
<rect x="575.60" y="405.80" width="200.70" height="142.90" fill="none" stroke="#4a4a4a" stroke-width="1.5"/></svg>
</body></html>
